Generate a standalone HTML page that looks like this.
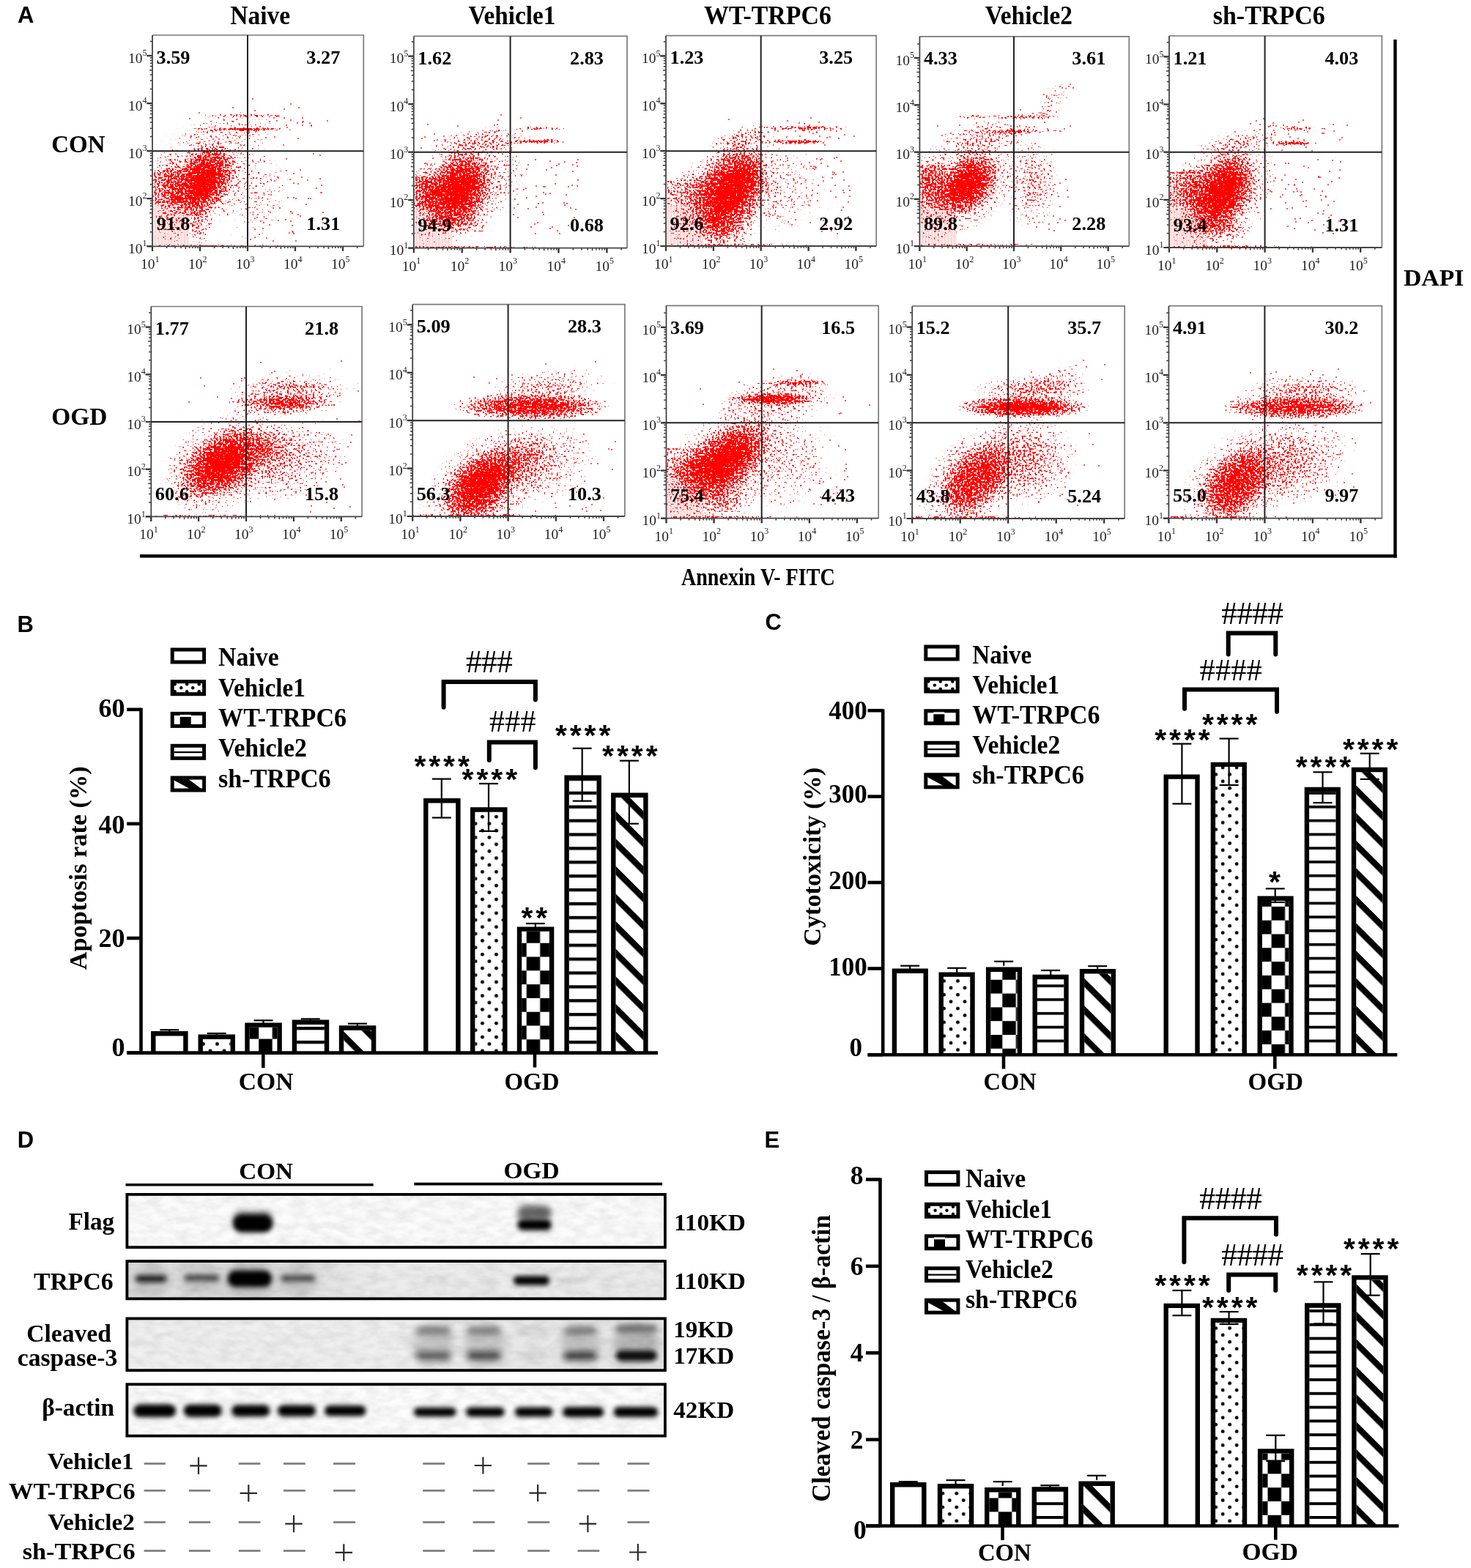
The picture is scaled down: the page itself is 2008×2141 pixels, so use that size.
<!DOCTYPE html>
<html><head><meta charset="utf-8"><title>Figure</title><style>html,body{margin:0;padding:0;background:#fff;overflow:hidden}svg{display:block}</style></head><body>
<svg width="2008" height="2141" viewBox="0 0 2008 2141">
<rect width="2008" height="2141" fill="#fff"/>
<defs>
<filter id="bl2" x="-20%" y="-60%" width="140%" height="220%"><feGaussianBlur stdDeviation="2.2"/></filter>
<filter id="bl3" x="-30%" y="-80%" width="160%" height="260%"><feGaussianBlur stdDeviation="3"/></filter>
<filter id="bl4" x="-40%" y="-80%" width="180%" height="260%"><feGaussianBlur stdDeviation="4"/></filter>
<filter id="bl6" x="-40%" y="-80%" width="180%" height="260%"><feGaussianBlur stdDeviation="6"/></filter>
<filter id="noise" x="0" y="0" width="100%" height="100%"><feTurbulence type="fractalNoise" baseFrequency="0.05 0.1" numOctaves="3" seed="7"/><feColorMatrix type="matrix" values="0 0 0 0 0  0 0 0 0 0  0 0 0 0 0  0.14 0 0 0 -0.045"/></filter>
<linearGradient id="trg" x1="0" x2="1" y1="0" y2="0"><stop offset="0" stop-color="#dcdcdc"/><stop offset="0.35" stop-color="#e0e0e0"/><stop offset="0.45" stop-color="#ececec"/><stop offset="1" stop-color="#eaeaea"/></linearGradient>
<linearGradient id="clg" x1="0" x2="1" y1="0" y2="0"><stop offset="0" stop-color="#efefef"/><stop offset="0.5" stop-color="#efefef"/><stop offset="0.6" stop-color="#e9e9e9"/><stop offset="1" stop-color="#e6e6e6"/></linearGradient>
<radialGradient id="gg"><stop offset="0" stop-color="#000"/><stop offset="0.2" stop-color="#000" stop-opacity="0.88"/><stop offset="0.4" stop-color="#000" stop-opacity="0.61"/><stop offset="0.6" stop-color="#000" stop-opacity="0.32"/><stop offset="0.8" stop-color="#000" stop-opacity="0.135"/><stop offset="1" stop-color="#000" stop-opacity="0"/></radialGradient><radialGradient id="gf"><stop offset="0" stop-color="#000"/><stop offset="0.45" stop-color="#000"/><stop offset="0.7" stop-color="#000" stop-opacity="0.6"/><stop offset="0.85" stop-color="#000" stop-opacity="0.25"/><stop offset="1" stop-color="#000" stop-opacity="0"/></radialGradient><radialGradient id="gc"><stop offset="0" stop-color="#000"/><stop offset="0.3" stop-color="#000" stop-opacity="0.95"/><stop offset="0.5" stop-color="#000" stop-opacity="0.75"/><stop offset="0.7" stop-color="#000" stop-opacity="0.45"/><stop offset="0.85" stop-color="#000" stop-opacity="0.2"/><stop offset="1" stop-color="#000" stop-opacity="0"/></radialGradient>
<pattern id="vst" patternUnits="userSpaceOnUse" width="4.4" height="10"><rect width="1.9" height="10"/><rect x="1.9" width="2.5" height="10" opacity="0.2"/></pattern>
<pattern id="pst" patternUnits="userSpaceOnUse" width="4.4" height="10"><rect width="4.4" height="10" fill="#fdeaea"/><rect width="1.6" height="10" fill="#fbd3d3"/></pattern>
<clipPath id="clip0"><rect x="208" y="48" width="288.3" height="288.3"/></clipPath>
<filter id="spk0" filterUnits="userSpaceOnUse" x="208" y="48" width="288.3" height="288.3" color-interpolation-filters="sRGB"><feTurbulence type="fractalNoise" baseFrequency="0.4" numOctaves="1" seed="11" result="n"/><feComponentTransfer in="n" result="u"><feFuncA type="table" tableValues="0 0 0.001 0.03 0.18 0.49 0.82 0.97 1 1 1"/></feComponentTransfer><feComposite in="SourceAlpha" in2="u" operator="arithmetic" k2="30" k3="-30" result="m"/><feFlood flood-color="#f00"/><feComposite in2="m" operator="in"/><feGaussianBlur stdDeviation="0.45"/></filter>
<clipPath id="clip1"><rect x="564.8" y="49.4" width="291.2" height="289.3"/></clipPath>
<filter id="spk1" filterUnits="userSpaceOnUse" x="564.8" y="49.4" width="291.2" height="289.3" color-interpolation-filters="sRGB"><feTurbulence type="fractalNoise" baseFrequency="0.4" numOctaves="1" seed="18" result="n"/><feComponentTransfer in="n" result="u"><feFuncA type="table" tableValues="0 0 0.001 0.03 0.18 0.49 0.82 0.97 1 1 1"/></feComponentTransfer><feComposite in="SourceAlpha" in2="u" operator="arithmetic" k2="30" k3="-30" result="m"/><feFlood flood-color="#f00"/><feComposite in2="m" operator="in"/><feGaussianBlur stdDeviation="0.45"/></filter>
<clipPath id="clip2"><rect x="909" y="48.7" width="287.2" height="287.3"/></clipPath>
<filter id="spk2" filterUnits="userSpaceOnUse" x="909" y="48.7" width="287.2" height="287.3" color-interpolation-filters="sRGB"><feTurbulence type="fractalNoise" baseFrequency="0.4" numOctaves="1" seed="25" result="n"/><feComponentTransfer in="n" result="u"><feFuncA type="table" tableValues="0 0 0.001 0.03 0.18 0.49 0.82 0.97 1 1 1"/></feComponentTransfer><feComposite in="SourceAlpha" in2="u" operator="arithmetic" k2="30" k3="-30" result="m"/><feFlood flood-color="#f00"/><feComposite in2="m" operator="in"/><feGaussianBlur stdDeviation="0.45"/></filter>
<clipPath id="clip3"><rect x="1255.4" y="49.8" width="285.9" height="286.4"/></clipPath>
<filter id="spk3" filterUnits="userSpaceOnUse" x="1255.4" y="49.8" width="285.9" height="286.4" color-interpolation-filters="sRGB"><feTurbulence type="fractalNoise" baseFrequency="0.4" numOctaves="1" seed="32" result="n"/><feComponentTransfer in="n" result="u"><feFuncA type="table" tableValues="0 0 0.001 0.03 0.18 0.49 0.82 0.97 1 1 1"/></feComponentTransfer><feComposite in="SourceAlpha" in2="u" operator="arithmetic" k2="30" k3="-30" result="m"/><feFlood flood-color="#f00"/><feComposite in2="m" operator="in"/><feGaussianBlur stdDeviation="0.45"/></filter>
<clipPath id="clip4"><rect x="1596" y="49" width="290.4" height="289"/></clipPath>
<filter id="spk4" filterUnits="userSpaceOnUse" x="1596" y="49" width="290.4" height="289" color-interpolation-filters="sRGB"><feTurbulence type="fractalNoise" baseFrequency="0.4" numOctaves="1" seed="39" result="n"/><feComponentTransfer in="n" result="u"><feFuncA type="table" tableValues="0 0 0.001 0.03 0.18 0.49 0.82 0.97 1 1 1"/></feComponentTransfer><feComposite in="SourceAlpha" in2="u" operator="arithmetic" k2="30" k3="-30" result="m"/><feFlood flood-color="#f00"/><feComposite in2="m" operator="in"/><feGaussianBlur stdDeviation="0.45"/></filter>
<clipPath id="clip5"><rect x="206.3" y="418.5" width="287.8" height="286.9"/></clipPath>
<filter id="spk5" filterUnits="userSpaceOnUse" x="206.3" y="418.5" width="287.8" height="286.9" color-interpolation-filters="sRGB"><feTurbulence type="fractalNoise" baseFrequency="0.4" numOctaves="1" seed="46" result="n"/><feComponentTransfer in="n" result="u"><feFuncA type="table" tableValues="0 0 0.001 0.03 0.18 0.49 0.82 0.97 1 1 1"/></feComponentTransfer><feComposite in="SourceAlpha" in2="u" operator="arithmetic" k2="30" k3="-30" result="m"/><feFlood flood-color="#f00"/><feComposite in2="m" operator="in"/><feGaussianBlur stdDeviation="0.45"/></filter>
<clipPath id="clip6"><rect x="563.2" y="415.7" width="289.7" height="289.3"/></clipPath>
<filter id="spk6" filterUnits="userSpaceOnUse" x="563.2" y="415.7" width="289.7" height="289.3" color-interpolation-filters="sRGB"><feTurbulence type="fractalNoise" baseFrequency="0.4" numOctaves="1" seed="53" result="n"/><feComponentTransfer in="n" result="u"><feFuncA type="table" tableValues="0 0 0.001 0.03 0.18 0.49 0.82 0.97 1 1 1"/></feComponentTransfer><feComposite in="SourceAlpha" in2="u" operator="arithmetic" k2="30" k3="-30" result="m"/><feFlood flood-color="#f00"/><feComposite in2="m" operator="in"/><feGaussianBlur stdDeviation="0.45"/></filter>
<clipPath id="clip7"><rect x="909.5" y="417.3" width="289.7" height="290.4"/></clipPath>
<filter id="spk7" filterUnits="userSpaceOnUse" x="909.5" y="417.3" width="289.7" height="290.4" color-interpolation-filters="sRGB"><feTurbulence type="fractalNoise" baseFrequency="0.4" numOctaves="1" seed="60" result="n"/><feComponentTransfer in="n" result="u"><feFuncA type="table" tableValues="0 0 0.001 0.03 0.18 0.49 0.82 0.97 1 1 1"/></feComponentTransfer><feComposite in="SourceAlpha" in2="u" operator="arithmetic" k2="30" k3="-30" result="m"/><feFlood flood-color="#f00"/><feComposite in2="m" operator="in"/><feGaussianBlur stdDeviation="0.45"/></filter>
<clipPath id="clip8"><rect x="1245.2" y="417.9" width="290" height="290.1"/></clipPath>
<filter id="spk8" filterUnits="userSpaceOnUse" x="1245.2" y="417.9" width="290" height="290.1" color-interpolation-filters="sRGB"><feTurbulence type="fractalNoise" baseFrequency="0.4" numOctaves="1" seed="67" result="n"/><feComponentTransfer in="n" result="u"><feFuncA type="table" tableValues="0 0 0.001 0.03 0.18 0.49 0.82 0.97 1 1 1"/></feComponentTransfer><feComposite in="SourceAlpha" in2="u" operator="arithmetic" k2="30" k3="-30" result="m"/><feFlood flood-color="#f00"/><feComposite in2="m" operator="in"/><feGaussianBlur stdDeviation="0.45"/></filter>
<clipPath id="clip9"><rect x="1595.4" y="417.7" width="291" height="290"/></clipPath>
<filter id="spk9" filterUnits="userSpaceOnUse" x="1595.4" y="417.7" width="291" height="290" color-interpolation-filters="sRGB"><feTurbulence type="fractalNoise" baseFrequency="0.4" numOctaves="1" seed="74" result="n"/><feComponentTransfer in="n" result="u"><feFuncA type="table" tableValues="0 0 0.001 0.03 0.18 0.49 0.82 0.97 1 1 1"/></feComponentTransfer><feComposite in="SourceAlpha" in2="u" operator="arithmetic" k2="30" k3="-30" result="m"/><feFlood flood-color="#f00"/><feComposite in2="m" operator="in"/><feGaussianBlur stdDeviation="0.45"/></filter>
<pattern id="p1" patternUnits="userSpaceOnUse" x="276.9" y="1437.6" width="19" height="18.8"><rect width="19" height="18.8" fill="#fff"/><circle cx="0.6" cy="6.6" r="2.45"/><circle cx="19.6" cy="6.6" r="2.45"/><circle cx="10.1" cy="16" r="2.45"/><circle cx="10.1" cy="-2.8" r="2.45"/></pattern>
<pattern id="p2" patternUnits="userSpaceOnUse" x="353.2" y="1418.6" width="37" height="37.6"><rect width="37" height="37.6" fill="#fff"/><rect x="0" y="0" width="18.5" height="18.8" fill="#000"/><rect x="18.5" y="18.8" width="18.5" height="18.8" fill="#000"/></pattern>
<pattern id="p3" patternUnits="userSpaceOnUse" x="405.1" y="1420.9" width="20" height="18.9"><rect width="20" height="18.9" fill="#fff"/><rect x="0" y="0" width="20" height="4.3" fill="#000"/></pattern>
<pattern id="p4" patternUnits="userSpaceOnUse" x="0" y="0" width="40" height="26.6" patternTransform="translate(469.2 1446) rotate(45)"><rect width="40" height="26.6" fill="#fff"/><rect x="0" y="0" width="40" height="8.4" fill="#000"/></pattern>
<pattern id="p5" patternUnits="userSpaceOnUse" x="648.4" y="1437.6" width="19" height="18.8"><rect width="19" height="18.8" fill="#fff"/><circle cx="0.6" cy="6.6" r="2.45"/><circle cx="19.6" cy="6.6" r="2.45"/><circle cx="10.1" cy="16" r="2.45"/><circle cx="10.1" cy="-2.8" r="2.45"/></pattern>
<pattern id="p6" patternUnits="userSpaceOnUse" x="718.7" y="1419.3" width="37" height="37.6"><rect width="37" height="37.6" fill="#fff"/><rect x="0" y="0" width="18.5" height="18.8" fill="#000"/><rect x="18.5" y="18.8" width="18.5" height="18.8" fill="#000"/></pattern>
<pattern id="p7" patternUnits="userSpaceOnUse" x="776.8" y="1420.9" width="20" height="18.9"><rect width="20" height="18.9" fill="#fff"/><rect x="0" y="0" width="20" height="4.3" fill="#000"/></pattern>
<pattern id="p8" patternUnits="userSpaceOnUse" x="0" y="0" width="40" height="26.6" patternTransform="translate(840.5 1446) rotate(45)"><rect width="40" height="26.6" fill="#fff"/><rect x="0" y="0" width="40" height="8.4" fill="#000"/></pattern>
<pattern id="p9" patternUnits="userSpaceOnUse" x="1287.9" y="1440.2" width="19" height="18.8"><rect width="19" height="18.8" fill="#fff"/><circle cx="0.6" cy="12" r="2.45"/><circle cx="19.6" cy="12" r="2.45"/><circle cx="10.1" cy="21.4" r="2.45"/><circle cx="10.1" cy="2.6" r="2.45"/></pattern>
<pattern id="p10" patternUnits="userSpaceOnUse" x="1368.3" y="1431.8" width="37" height="37.6"><rect width="37" height="37.6" fill="#fff"/><rect x="0" y="0" width="18.5" height="18.8" fill="#000"/><rect x="18.5" y="18.8" width="18.5" height="18.8" fill="#000"/></pattern>
<pattern id="p11" patternUnits="userSpaceOnUse" x="1415.9" y="1419.5" width="20" height="18.8"><rect width="20" height="18.8" fill="#fff"/><rect x="0" y="0" width="20" height="3.7" fill="#000"/></pattern>
<pattern id="p12" patternUnits="userSpaceOnUse" x="0" y="0" width="40" height="26.6" patternTransform="translate(1480.2 1448.6) rotate(45)"><rect width="40" height="26.6" fill="#fff"/><rect x="0" y="0" width="40" height="8.4" fill="#000"/></pattern>
<pattern id="p13" patternUnits="userSpaceOnUse" x="1659.1" y="1440.2" width="19" height="18.8"><rect width="19" height="18.8" fill="#fff"/><circle cx="0.6" cy="12" r="2.45"/><circle cx="19.6" cy="12" r="2.45"/><circle cx="10.1" cy="21.4" r="2.45"/><circle cx="10.1" cy="2.6" r="2.45"/></pattern>
<pattern id="p14" patternUnits="userSpaceOnUse" x="1735.6" y="1425.9" width="37" height="37.6"><rect width="37" height="37.6" fill="#fff"/><rect x="0" y="0" width="18.5" height="18.8" fill="#000"/><rect x="18.5" y="18.8" width="18.5" height="18.8" fill="#000"/></pattern>
<pattern id="p15" patternUnits="userSpaceOnUse" x="1787.1" y="1419.5" width="20" height="18.8"><rect width="20" height="18.8" fill="#fff"/><rect x="0" y="0" width="20" height="3.7" fill="#000"/></pattern>
<pattern id="p16" patternUnits="userSpaceOnUse" x="0" y="0" width="40" height="26.6" patternTransform="translate(1851.2 1448.6) rotate(45)"><rect width="40" height="26.6" fill="#fff"/><rect x="0" y="0" width="40" height="8.4" fill="#000"/></pattern>
<pattern id="p17" patternUnits="userSpaceOnUse" x="1286.2" y="2083.5" width="19" height="18.8"><rect width="19" height="18.8" fill="#fff"/><circle cx="0.6" cy="12" r="2.45"/><circle cx="19.6" cy="12" r="2.45"/><circle cx="10.1" cy="21.4" r="2.45"/><circle cx="10.1" cy="2.6" r="2.45"/></pattern>
<pattern id="p18" patternUnits="userSpaceOnUse" x="1362.8" y="2064.3" width="37" height="37.6"><rect width="37" height="37.6" fill="#fff"/><rect x="0" y="0" width="18.5" height="18.8" fill="#000"/><rect x="18.5" y="18.8" width="18.5" height="18.8" fill="#000"/></pattern>
<pattern id="p19" patternUnits="userSpaceOnUse" x="1415" y="2070" width="20" height="18.8"><rect width="20" height="18.8" fill="#fff"/><rect x="0" y="0" width="20" height="3.9" fill="#000"/></pattern>
<pattern id="p20" patternUnits="userSpaceOnUse" x="0" y="0" width="40" height="26.6" patternTransform="translate(1478.8 2091.9) rotate(45)"><rect width="40" height="26.6" fill="#fff"/><rect x="0" y="0" width="40" height="8.4" fill="#000"/></pattern>
<pattern id="p21" patternUnits="userSpaceOnUse" x="1659.1" y="2083.5" width="19" height="18.8"><rect width="19" height="18.8" fill="#fff"/><circle cx="0.6" cy="12" r="2.45"/><circle cx="19.6" cy="12" r="2.45"/><circle cx="10.1" cy="21.4" r="2.45"/><circle cx="10.1" cy="2.6" r="2.45"/></pattern>
<pattern id="p22" patternUnits="userSpaceOnUse" x="1730.5" y="2068.8" width="37" height="37.6"><rect width="37" height="37.6" fill="#fff"/><rect x="0" y="0" width="18.5" height="18.8" fill="#000"/><rect x="18.5" y="18.8" width="18.5" height="18.8" fill="#000"/></pattern>
<pattern id="p23" patternUnits="userSpaceOnUse" x="1787.4" y="2070" width="20" height="18.8"><rect width="20" height="18.8" fill="#fff"/><rect x="0" y="0" width="20" height="3.9" fill="#000"/></pattern>
<pattern id="p24" patternUnits="userSpaceOnUse" x="0" y="0" width="40" height="26.6" patternTransform="translate(1851.6 2091.9) rotate(45)"><rect width="40" height="26.6" fill="#fff"/><rect x="0" y="0" width="40" height="8.4" fill="#000"/></pattern>
</defs>
<g clip-path="url(#clip0)">
<rect x="209" y="278" width="49" height="57" fill="url(#pst)"/>
<g filter="url(#spk0)"><ellipse cx="277" cy="246" rx="60" ry="40" fill="url(#gc)" transform="rotate(-55 277 246)"/><ellipse cx="278" cy="252" rx="85" ry="60" fill="url(#gg)" opacity="0.35" transform="rotate(-50 278 252)"/><ellipse cx="234" cy="252" rx="30" ry="55" fill="url(#gg)" opacity="0.50"/><ellipse cx="270" cy="300" rx="17.5" ry="45" fill="url(#gg)" opacity="0.35" transform="rotate(-5 270 300)"/><ellipse cx="233" cy="306" rx="30" ry="50" fill="url(#gg)" opacity="0.15"/><ellipse cx="333" cy="176.5" rx="80" ry="3" fill="url(#gg)" opacity="0.80"/><ellipse cx="335" cy="176.5" rx="35" ry="3" fill="url(#gg)" opacity="0.50"/><ellipse cx="342" cy="158" rx="70" ry="2.8" fill="url(#gg)" opacity="0.55"/><ellipse cx="300" cy="185" rx="100" ry="40" fill="url(#gg)" opacity="0.12" transform="rotate(-10 300 185)"/><ellipse cx="350" cy="260" rx="62.5" ry="87.5" fill="url(#gg)" opacity="0.10"/><ellipse cx="272" cy="335.5" rx="150" ry="2" fill="url(#gg)" opacity="0.60"/><rect x="209" y="232" width="41" height="47" fill="url(#vst)" opacity="0.55"/></g>
<path d="M344 135h2m50 7h2m-81 5h2m88 0h2m-22 2h2m-42 2h2m-78 3h2m104 5h2m-6 2h2m12 0h2m23 0h2m-156 1h2m45 2h2m89 0h2m-21 1h2m67 0h2m-81 1h2m44 0h2m-3 1h2m-9 1h2m15 0h2m-98 2h2m62 1h2m20 0h2m10 0h2m-133 1h2m129 0h2m-72 1h2m35 1h2m-35 1h2m-35 1h2m22 3h2m-74 1h2m60 0h2m7 0h2m-12 2h2m-22 3h2m7 1h2m-59 1h2m22 0h2m78 0h2m-50 1h2m34 0h2m42 1h2m-118 1h2m6 0h2m-28 4h2m22 2h2m-38 2h2m124 0h2m-114 1h2m19 1h2m47 3h2m-26 1h2m-9 1h2m-58 3h2m-1 1h2m68 1h2m97 0h2m7 2h2m-196 2h2m146 3h2m-48 2h2m63 13h2m-21 1h2m8 4h2m-24 5h2m31 0h2m-34 1h2m55 1h2m-43 1h2m22 1h2m-47 1h2m24 3h2m4 1h2m30 2h2m-92 1h2m81 3h2m4 6h2m-1 0h2m-71 3h2m21 4h2m6 0h2m1 1h2m15 0h2m1 0h2m-8 8h2m-47 5h2m7 0h2m13 5h2m-30 1h2m70 0h2m-44 1h2m-49 2h2m53 0h2m1 2h2m-61 2h2m74 1h2m-39 2h2m32 0h2m-46 1h2m-26 1h2m39 0h2m-39 2h2m79 0h2m-75 3h2m29 1h2m-42 4h2m-13 1h2m49 3h2m-1 1h2m-7 1h2m4 1h2m-49 1h2m-8 4h2m14 1h2m-24 2h2m29 2h2m29 0h2" stroke="#f22" stroke-width="1.7"/>
</g>
<path d="M208 48H496.3V336.3" fill="none" stroke="#7a7a7a" stroke-width="1.7"/>
<path d="M200.5 336.3h7.5M204.8 316.7h3.2M204.8 305.3h3.2M204.8 297.1h3.2M204 290.8h4M204.8 285.7h3.2M204.8 281.3h3.2M204.8 277.6h3.2M204.8 274.2h3.2M200.5 271.2h7.5M204.8 251.7h3.2M204.8 240.2h3.2M204.8 232.1h3.2M204 225.8h4M204.8 220.6h3.2M204.8 216.3h3.2M204.8 212.5h3.2M204.8 209.2h3.2M200.5 206.2h7.5M204.8 186.6h3.2M204.8 175.2h3.2M204.8 167h3.2M204 160.7h4M204.8 155.6h3.2M204.8 151.2h3.2M204.8 147.5h3.2M204.8 144.1h3.2M200.5 141.1h7.5M204.8 121.6h3.2M204.8 110.1h3.2M204.8 102h3.2M204 95.7h4M204.8 90.5h3.2M204.8 86.2h3.2M204.8 82.4h3.2M204.8 79.1h3.2M200.5 76.1h7.5M204.8 56.5h3.2M208 336.3v6.5M227.6 336.3v2.8M239 336.3v2.8M247.1 336.3v2.8M253.4 336.3v3.6M258.6 336.3v2.8M262.9 336.3v2.8M266.7 336.3v2.8M270 336.3v2.8M273 336.3v6.5M292.6 336.3v2.8M304 336.3v2.8M312.1 336.3v2.8M318.4 336.3v3.6M323.6 336.3v2.8M327.9 336.3v2.8M331.7 336.3v2.8M335 336.3v2.8M338 336.3v6.5M357.6 336.3v2.8M369 336.3v2.8M377.1 336.3v2.8M383.4 336.3v3.6M388.6 336.3v2.8M392.9 336.3v2.8M396.7 336.3v2.8M400 336.3v2.8M403 336.3v6.5M422.6 336.3v2.8M434 336.3v2.8M442.1 336.3v2.8M448.4 336.3v3.6M453.6 336.3v2.8M457.9 336.3v2.8M461.7 336.3v2.8M465 336.3v2.8M468 336.3v6.5M487.6 336.3v2.8" stroke="#3a3a3a" stroke-width="1.5"/>
<path d="M200.5 336.3h7.5M208 336.3v6.5M200.5 271.2h7.5M273 336.3v6.5M200.5 206.2h7.5M338 336.3v6.5M200.5 141.1h7.5M403 336.3v6.5M200.5 76.1h7.5M468 336.3v6.5" stroke="#333" stroke-width="2.2"/>
<path d="M208 48V336.3H496.3" fill="none" stroke="#444" stroke-width="1.8"/>
<text x="192" y="367.3" font-family="'Liberation Serif','Times New Roman',serif" font-size="19.5" fill="#222">10<tspan font-size="12" dy="-9.5">1</tspan></text>
<text x="175" y="345.9" font-family="'Liberation Serif','Times New Roman',serif" font-size="19.5" fill="#222">10<tspan font-size="12" dy="-9.5">1</tspan></text>
<text x="257" y="367.3" font-family="'Liberation Serif','Times New Roman',serif" font-size="19.5" fill="#222">10<tspan font-size="12" dy="-9.5">2</tspan></text>
<text x="175" y="280.9" font-family="'Liberation Serif','Times New Roman',serif" font-size="19.5" fill="#222">10<tspan font-size="12" dy="-9.5">2</tspan></text>
<text x="322" y="367.3" font-family="'Liberation Serif','Times New Roman',serif" font-size="19.5" fill="#222">10<tspan font-size="12" dy="-9.5">3</tspan></text>
<text x="175" y="215.8" font-family="'Liberation Serif','Times New Roman',serif" font-size="19.5" fill="#222">10<tspan font-size="12" dy="-9.5">3</tspan></text>
<text x="387" y="367.3" font-family="'Liberation Serif','Times New Roman',serif" font-size="19.5" fill="#222">10<tspan font-size="12" dy="-9.5">4</tspan></text>
<text x="175" y="150.7" font-family="'Liberation Serif','Times New Roman',serif" font-size="19.5" fill="#222">10<tspan font-size="12" dy="-9.5">4</tspan></text>
<text x="452" y="367.3" font-family="'Liberation Serif','Times New Roman',serif" font-size="19.5" fill="#222">10<tspan font-size="12" dy="-9.5">5</tspan></text>
<text x="175" y="85.7" font-family="'Liberation Serif','Times New Roman',serif" font-size="19.5" fill="#222">10<tspan font-size="12" dy="-9.5">5</tspan></text>
<path d="M338 48L338 336.3" stroke="#222" stroke-width="2"/>
<path d="M208 206.2L496.3 206.2" stroke="#222" stroke-width="2"/>
<text x="213.5" y="86.5" font-family="'Liberation Serif','Times New Roman',serif" font-size="26" font-weight="bold" textLength="46" lengthAdjust="spacingAndGlyphs">3.59</text>
<text x="464.3" y="86.5" font-family="'Liberation Serif','Times New Roman',serif" font-size="26" font-weight="bold" text-anchor="end" textLength="46" lengthAdjust="spacingAndGlyphs">3.27</text>
<text x="213.5" y="314" font-family="'Liberation Serif','Times New Roman',serif" font-size="26" font-weight="bold" textLength="46" lengthAdjust="spacingAndGlyphs">91.8</text>
<text x="464.3" y="314" font-family="'Liberation Serif','Times New Roman',serif" font-size="26" font-weight="bold" text-anchor="end" textLength="46" lengthAdjust="spacingAndGlyphs">1.31</text>
<g clip-path="url(#clip1)">
<rect x="566" y="284" width="51" height="53" fill="url(#pst)"/>
<g filter="url(#spk1)"><ellipse cx="625" cy="260" rx="62.5" ry="45" fill="url(#gc)" transform="rotate(-62 625 260)"/><ellipse cx="638" cy="256" rx="100" ry="70" fill="url(#gg)" opacity="0.35" transform="rotate(-45 638 256)"/><ellipse cx="585" cy="262" rx="30" ry="45" fill="url(#gg)" opacity="0.50"/><ellipse cx="620" cy="300" rx="22.5" ry="50" fill="url(#gg)" opacity="0.45" transform="rotate(-85 620 300)"/><ellipse cx="585" cy="305" rx="30" ry="40" fill="url(#gg)" opacity="0.15"/><ellipse cx="728" cy="193" rx="50" ry="3.8" fill="url(#gg)" opacity="0.80"/><ellipse cx="745" cy="193" rx="22.5" ry="3.8" fill="url(#gg)" opacity="0.60"/><ellipse cx="738" cy="175.5" rx="40" ry="3.2" fill="url(#gg)" opacity="0.50"/><ellipse cx="655" cy="194" rx="87.5" ry="22.5" fill="url(#gg)" opacity="0.22" transform="rotate(-8 655 194)"/><ellipse cx="630" cy="337.5" rx="150" ry="2" fill="url(#gg)" opacity="0.60"/><rect x="567" y="241" width="36" height="43" fill="url(#vst)" opacity="0.75"/></g>
<path d="M683 157h2m25 4h2m-33 3h2m-98 6h2m93 0h2m-6 1h2m-52 1h2m51 7h2m33 0h2m-122 4h2m44 0h2m-18 2h2m-19 1h2m-28 1h2m72 0h2m6 0h2m-88 2h2m97 1h2m-80 1h2m8 0h2m-16 1h2m40 3h2m24 0h2m-36 2h2m30 0h2m-65 2h2m-23 3h2m29 1h2m76 0h2m-12 1h2m-56 1h2m2 3h2m-9 1h2m-16 2h2m9 1h2m0 1h2m-27 3h2m22 0h2m114 2h2m56 0h2m-40 2h2m18 1h2m14 1h2m-26 2h2m-144 1h2m98 0h2m59 0h2m-24 1h2m26 1h2m-37 2h2m-36 2h2m25 1h2m34 2h2m-25 5h2m-49 1h2m75 6h2m-33 5h2m21 2h2m-51 1h2m54 0h2m-48 1h2m0 0h2m30 0h2m-60 2h2m-14 1h2m7 1h2m-16 2h2m39 2h2m7 1h2m-8 1h2m26 1h2m-43 2h2m-15 2h2m-18 2h2m36 5h2m27 0h2m-37 1h2m37 0h2m-69 1h2m62 1h2m-41 3h2m-32 1h2m75 0h2m-60 1h2m63 1h2m-47 4h2m-42 3h2m39 0h2m-37 4h2m75 0h2m-52 7h2m-6 2h2m44 2h2m-53 2h2m27 0h2m-5 2h2m8 3h2m-32 4h2m31 0h2" stroke="#f22" stroke-width="1.7"/>
</g>
<path d="M564.8 49.4H856V338.7" fill="none" stroke="#7a7a7a" stroke-width="1.7"/>
<path d="M557.3 338.7h7.5M561.6 319h3.2M561.6 307.4h3.2M561.6 299.3h3.2M560.8 292.9h4M561.6 287.7h3.2M561.6 283.3h3.2M561.6 279.5h3.2M561.6 276.2h3.2M557.3 273.2h7.5M561.6 253.5h3.2M561.6 241.9h3.2M561.6 233.8h3.2M560.8 227.4h4M561.6 222.2h3.2M561.6 217.8h3.2M561.6 214h3.2M561.6 210.7h3.2M557.3 207.7h7.5M561.6 188h3.2M561.6 176.4h3.2M561.6 168.3h3.2M560.8 161.9h4M561.6 156.7h3.2M561.6 152.3h3.2M561.6 148.5h3.2M561.6 145.2h3.2M557.3 142.2h7.5M561.6 122.5h3.2M561.6 110.9h3.2M561.6 102.8h3.2M560.8 96.4h4M561.6 91.2h3.2M561.6 86.8h3.2M561.6 83h3.2M561.6 79.7h3.2M557.3 76.7h7.5M561.6 57h3.2M564.8 338.7v6.5M584.6 338.7v2.8M596.2 338.7v2.8M604.5 338.7v2.8M610.9 338.7v3.6M616.1 338.7v2.8M620.5 338.7v2.8M624.3 338.7v2.8M627.7 338.7v2.8M630.7 338.7v6.5M650.5 338.7v2.8M662.1 338.7v2.8M670.4 338.7v2.8M676.8 338.7v3.6M682 338.7v2.8M686.4 338.7v2.8M690.2 338.7v2.8M693.6 338.7v2.8M696.6 338.7v6.5M716.4 338.7v2.8M728 338.7v2.8M736.3 338.7v2.8M742.7 338.7v3.6M747.9 338.7v2.8M752.3 338.7v2.8M756.1 338.7v2.8M759.5 338.7v2.8M762.5 338.7v6.5M782.3 338.7v2.8M793.9 338.7v2.8M802.2 338.7v2.8M808.6 338.7v3.6M813.8 338.7v2.8M818.2 338.7v2.8M822 338.7v2.8M825.4 338.7v2.8M828.4 338.7v6.5M848.2 338.7v2.8" stroke="#3a3a3a" stroke-width="1.5"/>
<path d="M557.3 338.7h7.5M564.8 338.7v6.5M557.3 273.2h7.5M630.7 338.7v6.5M557.3 207.7h7.5M696.6 338.7v6.5M557.3 142.2h7.5M762.5 338.7v6.5M557.3 76.7h7.5M828.4 338.7v6.5" stroke="#333" stroke-width="2.2"/>
<path d="M564.8 49.4V338.7H856" fill="none" stroke="#444" stroke-width="1.8"/>
<text x="548.8" y="369.7" font-family="'Liberation Serif','Times New Roman',serif" font-size="19.5" fill="#222">10<tspan font-size="12" dy="-9.5">1</tspan></text>
<text x="531.8" y="348.3" font-family="'Liberation Serif','Times New Roman',serif" font-size="19.5" fill="#222">10<tspan font-size="12" dy="-9.5">1</tspan></text>
<text x="614.7" y="369.7" font-family="'Liberation Serif','Times New Roman',serif" font-size="19.5" fill="#222">10<tspan font-size="12" dy="-9.5">2</tspan></text>
<text x="531.8" y="282.8" font-family="'Liberation Serif','Times New Roman',serif" font-size="19.5" fill="#222">10<tspan font-size="12" dy="-9.5">2</tspan></text>
<text x="680.6" y="369.7" font-family="'Liberation Serif','Times New Roman',serif" font-size="19.5" fill="#222">10<tspan font-size="12" dy="-9.5">3</tspan></text>
<text x="531.8" y="217.3" font-family="'Liberation Serif','Times New Roman',serif" font-size="19.5" fill="#222">10<tspan font-size="12" dy="-9.5">3</tspan></text>
<text x="746.5" y="369.7" font-family="'Liberation Serif','Times New Roman',serif" font-size="19.5" fill="#222">10<tspan font-size="12" dy="-9.5">4</tspan></text>
<text x="531.8" y="151.8" font-family="'Liberation Serif','Times New Roman',serif" font-size="19.5" fill="#222">10<tspan font-size="12" dy="-9.5">4</tspan></text>
<text x="812.4" y="369.7" font-family="'Liberation Serif','Times New Roman',serif" font-size="19.5" fill="#222">10<tspan font-size="12" dy="-9.5">5</tspan></text>
<text x="531.8" y="86.3" font-family="'Liberation Serif','Times New Roman',serif" font-size="19.5" fill="#222">10<tspan font-size="12" dy="-9.5">5</tspan></text>
<path d="M696.6 49.4L696.6 338.7" stroke="#222" stroke-width="2"/>
<path d="M564.8 207.7L856 207.7" stroke="#222" stroke-width="2"/>
<text x="570.3" y="87.9" font-family="'Liberation Serif','Times New Roman',serif" font-size="26" font-weight="bold" textLength="46" lengthAdjust="spacingAndGlyphs">1.62</text>
<text x="824" y="87.9" font-family="'Liberation Serif','Times New Roman',serif" font-size="26" font-weight="bold" text-anchor="end" textLength="46" lengthAdjust="spacingAndGlyphs">2.83</text>
<text x="570.3" y="316.4" font-family="'Liberation Serif','Times New Roman',serif" font-size="26" font-weight="bold" textLength="46" lengthAdjust="spacingAndGlyphs">94.9</text>
<text x="824" y="316.4" font-family="'Liberation Serif','Times New Roman',serif" font-size="26" font-weight="bold" text-anchor="end" textLength="46" lengthAdjust="spacingAndGlyphs">0.68</text>
<g clip-path="url(#clip2)">
<rect x="910" y="280" width="50" height="55" fill="url(#pst)"/>
<g filter="url(#spk2)"><ellipse cx="995" cy="263" rx="75" ry="50" fill="url(#gc)" transform="rotate(-58 995 263)"/><ellipse cx="990" cy="266" rx="105" ry="70" fill="url(#gg)" opacity="0.30" transform="rotate(-45 990 266)"/><ellipse cx="945" cy="262" rx="35" ry="35" fill="url(#gg)" opacity="0.28"/><ellipse cx="1020" cy="235" rx="35" ry="30" fill="url(#gg)" opacity="0.50"/><ellipse cx="985" cy="310" rx="30" ry="50" fill="url(#gg)" opacity="0.50" transform="rotate(-80 985 310)"/><ellipse cx="935" cy="307" rx="30" ry="40" fill="url(#gg)" opacity="0.15"/><ellipse cx="1085" cy="193.5" rx="50" ry="4" fill="url(#gg)" opacity="0.80"/><ellipse cx="1105" cy="193.5" rx="22.5" ry="4" fill="url(#gg)" opacity="0.50"/><ellipse cx="1100" cy="175" rx="65" ry="4" fill="url(#gg)" opacity="0.70"/><ellipse cx="1012" cy="192" rx="55" ry="22.5" fill="url(#gg)" opacity="0.30" transform="rotate(-20 1012 192)"/><ellipse cx="1070" cy="260" rx="75" ry="87.5" fill="url(#gg)" opacity="0.08"/><ellipse cx="975" cy="334.5" rx="150" ry="2" fill="url(#gg)" opacity="0.50"/><rect x="910" y="245" width="48" height="35" fill="url(#vst)" opacity="0.35"/></g>
<path d="M1106 161h2m-114 2h2m78 2h2m41 2h2m-29 1h2m5 1h2m5 2h2m-2 1h2m-51 1h2m57 0h2m25 0h2m-97 1h2m93 0h2m-10 2h2m1 0h2m-112 2h2m29 0h2m74 0h2m-74 1h2m22 0h2m54 0h2m-39 1h2m8 0h2m-77 1h2m73 0h2m-7 1h2m41 2h2m-118 2h2m53 0h2m25 0h2m45 0h2m-134 1h2m38 0h2m57 0h2m-6 1h2m14 1h2m-108 4h2m56 0h2m25 2h2m0 3h2m-74 13h2m17 2h2m67 2h2m-69 1h2m62 0h2m-26 1h2m5 0h2m-4 1h2m-47 1h2m-22 1h2m91 0h2m-45 2h2m14 1h2m-29 1h2m-27 1h2m6 1h2m28 1h2m2 0h2m17 0h2m-35 1h2m14 0h2m-1 1h2m-6 1h2m0 1h2m23 4h2m12 0h2m-14 1h2m-4 2h2m2 0h2m-67 1h2m45 3h2m-33 1h2m42 0h2m-68 1h2m11 0h2m15 2h2m50 0h2m-30 1h2m-79 3h2m37 0h2m-12 1h2m-29 2h2m66 0h2m21 0h2m17 1h2m-101 5h2m47 1h2m40 0h2m7 0h2m-28 1h2m-88 1h2m32 0h2m-22 1h2m88 0h2m-38 1h2m-69 1h2m-1 2h2m56 0h2m-31 1h2m20 0h2m57 0h2m-21 1h2m-66 1h2m2 2h2m23 2h2m8 0h2m-58 1h2m96 1h2m-98 2h2m20 1h2m-30 1h2m9 0h2m35 0h2m-51 2h2m2 1h2m21 0h2m67 0h2m-4 4h2m-66 3h2m-37 1h2m6 1h2m-9 1h2m-7 1h2m7 0h2m5 1h2m1 1h2m91 0h2m-99 2h2m23 2h2m52 0h2m-18 1h2m-50 2h2m28 1h2m53 0h2m-15 2h2m-69 1h2m45 1h2m5 7h2m-15 1h2m19 3h2" stroke="#f22" stroke-width="1.7"/>
</g>
<path d="M909 48.7H1196.2V336" fill="none" stroke="#7a7a7a" stroke-width="1.7"/>
<path d="M901.5 336h7.5M905.8 316.5h3.2M905.8 305h3.2M905.8 296.9h3.2M905 290.6h4M905.8 285.5h3.2M905.8 281.2h3.2M905.8 277.4h3.2M905.8 274.1h3.2M901.5 271.1h7.5M905.8 251.6h3.2M905.8 240.1h3.2M905.8 232h3.2M905 225.7h4M905.8 220.6h3.2M905.8 216.3h3.2M905.8 212.5h3.2M905.8 209.2h3.2M901.5 206.2h7.5M905.8 186.7h3.2M905.8 175.2h3.2M905.8 167.1h3.2M905 160.8h4M905.8 155.7h3.2M905.8 151.4h3.2M905.8 147.6h3.2M905.8 144.3h3.2M901.5 141.3h7.5M905.8 121.8h3.2M905.8 110.3h3.2M905.8 102.2h3.2M905 95.9h4M905.8 90.8h3.2M905.8 86.5h3.2M905.8 82.7h3.2M905.8 79.4h3.2M901.5 76.4h7.5M905.8 56.9h3.2M909 336v6.5M928.5 336v2.8M939.9 336v2.8M948 336v2.8M954.3 336v3.6M959.5 336v2.8M963.8 336v2.8M967.6 336v2.8M970.9 336v2.8M973.9 336v6.5M993.4 336v2.8M1004.8 336v2.8M1012.9 336v2.8M1019.2 336v3.6M1024.3 336v2.8M1028.7 336v2.8M1032.4 336v2.8M1035.7 336v2.8M1038.7 336v6.5M1058.2 336v2.8M1069.6 336v2.8M1077.7 336v2.8M1084 336v3.6M1089.2 336v2.8M1093.5 336v2.8M1097.3 336v2.8M1100.6 336v2.8M1103.6 336v6.5M1123.1 336v2.8M1134.5 336v2.8M1142.6 336v2.8M1148.9 336v3.6M1154 336v2.8M1158.4 336v2.8M1162.1 336v2.8M1165.4 336v2.8M1168.4 336v6.5M1187.9 336v2.8" stroke="#3a3a3a" stroke-width="1.5"/>
<path d="M901.5 336h7.5M909 336v6.5M901.5 271.1h7.5M973.9 336v6.5M901.5 206.2h7.5M1038.7 336v6.5M901.5 141.3h7.5M1103.6 336v6.5M901.5 76.4h7.5M1168.4 336v6.5" stroke="#333" stroke-width="2.2"/>
<path d="M909 48.7V336H1196.2" fill="none" stroke="#444" stroke-width="1.8"/>
<text x="893" y="367" font-family="'Liberation Serif','Times New Roman',serif" font-size="19.5" fill="#222">10<tspan font-size="12" dy="-9.5">1</tspan></text>
<text x="876" y="345.6" font-family="'Liberation Serif','Times New Roman',serif" font-size="19.5" fill="#222">10<tspan font-size="12" dy="-9.5">1</tspan></text>
<text x="957.9" y="367" font-family="'Liberation Serif','Times New Roman',serif" font-size="19.5" fill="#222">10<tspan font-size="12" dy="-9.5">2</tspan></text>
<text x="876" y="280.7" font-family="'Liberation Serif','Times New Roman',serif" font-size="19.5" fill="#222">10<tspan font-size="12" dy="-9.5">2</tspan></text>
<text x="1022.7" y="367" font-family="'Liberation Serif','Times New Roman',serif" font-size="19.5" fill="#222">10<tspan font-size="12" dy="-9.5">3</tspan></text>
<text x="876" y="215.8" font-family="'Liberation Serif','Times New Roman',serif" font-size="19.5" fill="#222">10<tspan font-size="12" dy="-9.5">3</tspan></text>
<text x="1087.6" y="367" font-family="'Liberation Serif','Times New Roman',serif" font-size="19.5" fill="#222">10<tspan font-size="12" dy="-9.5">4</tspan></text>
<text x="876" y="150.9" font-family="'Liberation Serif','Times New Roman',serif" font-size="19.5" fill="#222">10<tspan font-size="12" dy="-9.5">4</tspan></text>
<text x="1152.4" y="367" font-family="'Liberation Serif','Times New Roman',serif" font-size="19.5" fill="#222">10<tspan font-size="12" dy="-9.5">5</tspan></text>
<text x="876" y="86" font-family="'Liberation Serif','Times New Roman',serif" font-size="19.5" fill="#222">10<tspan font-size="12" dy="-9.5">5</tspan></text>
<path d="M1038.7 48.7L1038.7 336" stroke="#222" stroke-width="2"/>
<path d="M909 206.2L1196.2 206.2" stroke="#222" stroke-width="2"/>
<text x="914.5" y="87.2" font-family="'Liberation Serif','Times New Roman',serif" font-size="26" font-weight="bold" textLength="46" lengthAdjust="spacingAndGlyphs">1.23</text>
<text x="1164.2" y="87.2" font-family="'Liberation Serif','Times New Roman',serif" font-size="26" font-weight="bold" text-anchor="end" textLength="46" lengthAdjust="spacingAndGlyphs">3.25</text>
<text x="914.5" y="313.7" font-family="'Liberation Serif','Times New Roman',serif" font-size="26" font-weight="bold" textLength="46" lengthAdjust="spacingAndGlyphs">92.6</text>
<text x="1164.2" y="313.7" font-family="'Liberation Serif','Times New Roman',serif" font-size="26" font-weight="bold" text-anchor="end" textLength="46" lengthAdjust="spacingAndGlyphs">2.92</text>
<g clip-path="url(#clip3)">
<rect x="1257" y="282" width="49" height="53" fill="url(#pst)"/>
<g filter="url(#spk3)"><ellipse cx="1319" cy="252" rx="55" ry="37.5" fill="url(#gc)" transform="rotate(-45 1319 252)"/><ellipse cx="1318" cy="256" rx="90" ry="60" fill="url(#gg)" opacity="0.35" transform="rotate(-40 1318 256)"/><ellipse cx="1271" cy="250" rx="27.5" ry="45" fill="url(#gg)" opacity="0.50"/><ellipse cx="1272" cy="305" rx="30" ry="40" fill="url(#gg)" opacity="0.12"/><ellipse cx="1383" cy="179.5" rx="75" ry="4" fill="url(#gg)" opacity="0.65"/><ellipse cx="1396" cy="159.4" rx="55" ry="3.8" fill="url(#gg)" opacity="0.55"/><ellipse cx="1330" cy="159.4" rx="30" ry="3.8" fill="url(#gg)" opacity="0.35"/><ellipse cx="1335" cy="192" rx="87.5" ry="30" fill="url(#gg)" opacity="0.20" transform="rotate(-15 1335 192)"/><ellipse cx="1436" cy="138" rx="50" ry="20" fill="url(#gg)" opacity="0.10" transform="rotate(-50 1436 138)"/><ellipse cx="1408" cy="252" rx="45" ry="75" fill="url(#gg)" opacity="0.22"/><ellipse cx="1320" cy="334.5" rx="150" ry="2" fill="url(#gg)" opacity="0.50"/><rect x="1257" y="225" width="33" height="57" fill="url(#vst)" opacity="0.6"/></g>
<path d="M1460 115h2m-16 3h2m10 0h2m-11 2h2m13 0h2m-42 9h2m12 1h2m-12 1h2m0 3h2m-2 6h2m2 4h2m-44 6h2m35 1h2m1 1h2m7 1h2m-23 1h2m-13 1h2m12 0h2m3 1h2m-9 1h2m-29 1h2m-86 1h2m118 1h2m-23 1h2m19 0h2m-10 1h2m1 5h2m-95 1h2m14 0h2m21 2h2m-64 1h2m-32 1h2m98 0h2m10 0h2m67 0h2m-102 1h2m38 0h2m9 0h2m-9 1h2m-59 1h2m80 1h2m21 0h2m-73 1h2m-20 2h2m81 0h2m-56 2h2m-97 1h2m79 0h2m-25 2h2m36 0h2m-110 1h2m76 2h2m23 7h2m-11 2h2m31 0h2m-71 3h2m18 1h2m-25 5h2m66 11h2m23 11h2m-27 3h2m-9 5h2m3 4h2m8 3h2m36 3h2m-37 3h2m-27 2h2m50 0h2m-9 2h2m-10 1h2m23 7h2m-21 1h2m-13 3h2m-13 2h2m-14 1h2m39 1h2m11 1h2m-13 13h2m-48 12h2m35 1h2m-30 3h2m35 1h2m5 2h2m-12 3h2m-14 2h2m-19 4h2m15 3h2m5 2h2" stroke="#f22" stroke-width="1.7"/>
</g>
<path d="M1255.4 49.8H1541.3V336.2" fill="none" stroke="#7a7a7a" stroke-width="1.7"/>
<path d="M1247.9 336.2h7.5M1252.2 316.9h3.2M1252.2 305.5h3.2M1252.2 297.5h3.2M1251.4 291.3h4M1252.2 286.2h3.2M1252.2 281.9h3.2M1252.2 278.2h3.2M1252.2 274.9h3.2M1247.9 271.9h7.5M1252.2 252.6h3.2M1252.2 241.3h3.2M1252.2 233.3h3.2M1251.4 227h4M1252.2 222h3.2M1252.2 217.7h3.2M1252.2 213.9h3.2M1252.2 210.6h3.2M1247.9 207.7h7.5M1252.2 188.4h3.2M1252.2 177h3.2M1252.2 169h3.2M1251.4 162.8h4M1252.2 157.7h3.2M1252.2 153.4h3.2M1252.2 149.7h3.2M1252.2 146.4h3.2M1247.9 143.4h7.5M1252.2 124.1h3.2M1252.2 112.8h3.2M1252.2 104.8h3.2M1251.4 98.5h4M1252.2 93.5h3.2M1252.2 89.2h3.2M1252.2 85.4h3.2M1252.2 82.1h3.2M1247.9 79.2h7.5M1252.2 59.9h3.2M1255.4 336.2v6.5M1274.8 336.2v2.8M1286.1 336.2v2.8M1294.1 336.2v2.8M1300.3 336.2v3.6M1305.4 336.2v2.8M1309.7 336.2v2.8M1313.5 336.2v2.8M1316.8 336.2v2.8M1319.7 336.2v6.5M1339.1 336.2v2.8M1350.4 336.2v2.8M1358.4 336.2v2.8M1364.6 336.2v3.6M1369.7 336.2v2.8M1374 336.2v2.8M1377.8 336.2v2.8M1381.1 336.2v2.8M1384 336.2v6.5M1403.4 336.2v2.8M1414.7 336.2v2.8M1422.7 336.2v2.8M1428.9 336.2v3.6M1434 336.2v2.8M1438.3 336.2v2.8M1442.1 336.2v2.8M1445.4 336.2v2.8M1448.3 336.2v6.5M1467.7 336.2v2.8M1479 336.2v2.8M1487 336.2v2.8M1493.2 336.2v3.6M1498.3 336.2v2.8M1502.6 336.2v2.8M1506.4 336.2v2.8M1509.7 336.2v2.8M1512.6 336.2v6.5M1532 336.2v2.8" stroke="#3a3a3a" stroke-width="1.5"/>
<path d="M1247.9 336.2h7.5M1255.4 336.2v6.5M1247.9 271.9h7.5M1319.7 336.2v6.5M1247.9 207.7h7.5M1384 336.2v6.5M1247.9 143.4h7.5M1448.3 336.2v6.5M1247.9 79.2h7.5M1512.6 336.2v6.5" stroke="#333" stroke-width="2.2"/>
<path d="M1255.4 49.8V336.2H1541.3" fill="none" stroke="#444" stroke-width="1.8"/>
<text x="1239.4" y="367.2" font-family="'Liberation Serif','Times New Roman',serif" font-size="19.5" fill="#222">10<tspan font-size="12" dy="-9.5">1</tspan></text>
<text x="1222.4" y="345.8" font-family="'Liberation Serif','Times New Roman',serif" font-size="19.5" fill="#222">10<tspan font-size="12" dy="-9.5">1</tspan></text>
<text x="1303.7" y="367.2" font-family="'Liberation Serif','Times New Roman',serif" font-size="19.5" fill="#222">10<tspan font-size="12" dy="-9.5">2</tspan></text>
<text x="1222.4" y="281.6" font-family="'Liberation Serif','Times New Roman',serif" font-size="19.5" fill="#222">10<tspan font-size="12" dy="-9.5">2</tspan></text>
<text x="1368" y="367.2" font-family="'Liberation Serif','Times New Roman',serif" font-size="19.5" fill="#222">10<tspan font-size="12" dy="-9.5">3</tspan></text>
<text x="1222.4" y="217.3" font-family="'Liberation Serif','Times New Roman',serif" font-size="19.5" fill="#222">10<tspan font-size="12" dy="-9.5">3</tspan></text>
<text x="1432.3" y="367.2" font-family="'Liberation Serif','Times New Roman',serif" font-size="19.5" fill="#222">10<tspan font-size="12" dy="-9.5">4</tspan></text>
<text x="1222.4" y="153" font-family="'Liberation Serif','Times New Roman',serif" font-size="19.5" fill="#222">10<tspan font-size="12" dy="-9.5">4</tspan></text>
<text x="1496.6" y="367.2" font-family="'Liberation Serif','Times New Roman',serif" font-size="19.5" fill="#222">10<tspan font-size="12" dy="-9.5">5</tspan></text>
<text x="1222.4" y="88.8" font-family="'Liberation Serif','Times New Roman',serif" font-size="19.5" fill="#222">10<tspan font-size="12" dy="-9.5">5</tspan></text>
<path d="M1384 49.8L1384 336.2" stroke="#222" stroke-width="2"/>
<path d="M1255.4 207.7L1541.3 207.7" stroke="#222" stroke-width="2"/>
<text x="1260.9" y="88.3" font-family="'Liberation Serif','Times New Roman',serif" font-size="26" font-weight="bold" textLength="46" lengthAdjust="spacingAndGlyphs">4.33</text>
<text x="1509.3" y="88.3" font-family="'Liberation Serif','Times New Roman',serif" font-size="26" font-weight="bold" text-anchor="end" textLength="46" lengthAdjust="spacingAndGlyphs">3.61</text>
<text x="1260.9" y="313.9" font-family="'Liberation Serif','Times New Roman',serif" font-size="26" font-weight="bold" textLength="46" lengthAdjust="spacingAndGlyphs">89.8</text>
<text x="1509.3" y="313.9" font-family="'Liberation Serif','Times New Roman',serif" font-size="26" font-weight="bold" text-anchor="end" textLength="46" lengthAdjust="spacingAndGlyphs">2.28</text>
<g clip-path="url(#clip4)">
<rect x="1597" y="283" width="51" height="53" fill="url(#pst)"/>
<g filter="url(#spk4)"><ellipse cx="1668" cy="262" rx="65" ry="42.5" fill="url(#gc)" transform="rotate(-58 1668 262)"/><ellipse cx="1668" cy="265" rx="100" ry="70" fill="url(#gg)" opacity="0.35" transform="rotate(-45 1668 265)"/><ellipse cx="1627" cy="258" rx="32.5" ry="40" fill="url(#gg)" opacity="0.45"/><ellipse cx="1662" cy="310" rx="25" ry="50" fill="url(#gg)" opacity="0.50" transform="rotate(-85 1662 310)"/><ellipse cx="1622" cy="307" rx="30" ry="40" fill="url(#gg)" opacity="0.12"/><ellipse cx="1765" cy="195.5" rx="37.5" ry="4.5" fill="url(#gg)" opacity="0.85"/><ellipse cx="1776" cy="175.5" rx="40" ry="3.8" fill="url(#gg)" opacity="0.45"/><ellipse cx="1690" cy="196" rx="75" ry="20" fill="url(#gg)" opacity="0.22" transform="rotate(-10 1690 196)"/><ellipse cx="1660" cy="336.5" rx="150" ry="2" fill="url(#gg)" opacity="0.50"/><rect x="1597" y="232" width="43" height="51" fill="url(#vst)" opacity="0.5"/></g>
<path d="M1724 162h2m52 2h2m-66 1h2m56 2h2m-37 1h2m-33 1h2m11 1h2m98 0h2m-84 1h2m12 0h2m85 0h2m-107 1h2m6 0h2m-12 1h2m23 0h2m8 0h2m-49 4h2m-10 1h2m25 0h2m18 0h2m7 0h2m51 1h2m-137 1h2m97 0h2m-47 1h2m63 1h2m0 0h2m-50 1h2m0 4h2m-63 1h2m10 0h2m21 0h2m95 0h2m-62 1h2m6 2h2m47 0h2m-78 5h2m28 5h2m-35 4h2m39 1h2m6 12h2m18 1h2m9 2h2m-77 2h2m2 0h2m-21 2h2m38 2h2m4 2h2m41 3h2m-98 1h2m80 1h2m-63 5h2m44 2h2m-2 1h2m0 0h2m-63 1h2m85 0h2m-61 2h2m-21 1h2m-13 1h2m77 1h2m-42 1h2m-21 3h2m6 0h2m44 0h2m-48 1h2m-14 5h2m13 0h2m22 0h2m-62 3h2m35 0h2m32 0h2m-71 1h2m28 0h2m8 0h2m-27 4h2m24 0h2m-4 1h2m26 0h2m5 1h2m-64 1h2m60 0h2m-8 4h2m-23 1h2m-6 1h2m40 0h2m-68 2h2m56 3h2m-32 2h2m-21 2h2m-31 1h2m20 0h2m48 3h2m-10 3h2m5 1h2m9 2h2m-5 3h2m-41 1h2m-9 1h2m21 2h2m35 1h2m-61 1h2m15 1h2m19 3h2m-51 2h2m53 2h2m-48 1h2m26 2h2m9 4h2m12 1h2" stroke="#f22" stroke-width="1.7"/>
</g>
<path d="M1596 49H1886.4V338" fill="none" stroke="#7a7a7a" stroke-width="1.7"/>
<path d="M1588.5 338h7.5M1592.8 318.4h3.2M1592.8 306.9h3.2M1592.8 298.8h3.2M1592 292.5h4M1592.8 287.3h3.2M1592.8 282.9h3.2M1592.8 279.2h3.2M1592.8 275.8h3.2M1588.5 272.9h7.5M1592.8 253.2h3.2M1592.8 241.8h3.2M1592.8 233.6h3.2M1592 227.3h4M1592.8 222.2h3.2M1592.8 217.8h3.2M1592.8 214h3.2M1592.8 210.7h3.2M1588.5 207.7h7.5M1592.8 188.1h3.2M1592.8 176.6h3.2M1592.8 168.5h3.2M1592 162.2h4M1592.8 157h3.2M1592.8 152.6h3.2M1592.8 148.9h3.2M1592.8 145.5h3.2M1588.5 142.5h7.5M1592.8 122.9h3.2M1592.8 111.5h3.2M1592.8 103.3h3.2M1592 97h4M1592.8 91.9h3.2M1592.8 87.5h3.2M1592.8 83.7h3.2M1592.8 80.4h3.2M1588.5 77.4h7.5M1592.8 57.8h3.2M1596 338v6.5M1615.7 338v2.8M1627.2 338v2.8M1635.3 338v2.8M1641.6 338v3.6M1646.8 338v2.8M1651.2 338v2.8M1655 338v2.8M1658.3 338v2.8M1661.3 338v6.5M1681 338v2.8M1692.5 338v2.8M1700.6 338v2.8M1706.9 338v3.6M1712.1 338v2.8M1716.5 338v2.8M1720.3 338v2.8M1723.6 338v2.8M1726.6 338v6.5M1746.3 338v2.8M1757.8 338v2.8M1765.9 338v2.8M1772.2 338v3.6M1777.4 338v2.8M1781.8 338v2.8M1785.6 338v2.8M1788.9 338v2.8M1791.9 338v6.5M1811.6 338v2.8M1823.1 338v2.8M1831.2 338v2.8M1837.5 338v3.6M1842.7 338v2.8M1847.1 338v2.8M1850.9 338v2.8M1854.2 338v2.8M1857.2 338v6.5M1876.9 338v2.8" stroke="#3a3a3a" stroke-width="1.5"/>
<path d="M1588.5 338h7.5M1596 338v6.5M1588.5 272.9h7.5M1661.3 338v6.5M1588.5 207.7h7.5M1726.6 338v6.5M1588.5 142.5h7.5M1791.9 338v6.5M1588.5 77.4h7.5M1857.2 338v6.5" stroke="#333" stroke-width="2.2"/>
<path d="M1596 49V338H1886.4" fill="none" stroke="#444" stroke-width="1.8"/>
<text x="1580" y="369" font-family="'Liberation Serif','Times New Roman',serif" font-size="19.5" fill="#222">10<tspan font-size="12" dy="-9.5">1</tspan></text>
<text x="1563" y="347.6" font-family="'Liberation Serif','Times New Roman',serif" font-size="19.5" fill="#222">10<tspan font-size="12" dy="-9.5">1</tspan></text>
<text x="1645.3" y="369" font-family="'Liberation Serif','Times New Roman',serif" font-size="19.5" fill="#222">10<tspan font-size="12" dy="-9.5">2</tspan></text>
<text x="1563" y="282.5" font-family="'Liberation Serif','Times New Roman',serif" font-size="19.5" fill="#222">10<tspan font-size="12" dy="-9.5">2</tspan></text>
<text x="1710.6" y="369" font-family="'Liberation Serif','Times New Roman',serif" font-size="19.5" fill="#222">10<tspan font-size="12" dy="-9.5">3</tspan></text>
<text x="1563" y="217.3" font-family="'Liberation Serif','Times New Roman',serif" font-size="19.5" fill="#222">10<tspan font-size="12" dy="-9.5">3</tspan></text>
<text x="1775.9" y="369" font-family="'Liberation Serif','Times New Roman',serif" font-size="19.5" fill="#222">10<tspan font-size="12" dy="-9.5">4</tspan></text>
<text x="1563" y="152.1" font-family="'Liberation Serif','Times New Roman',serif" font-size="19.5" fill="#222">10<tspan font-size="12" dy="-9.5">4</tspan></text>
<text x="1841.2" y="369" font-family="'Liberation Serif','Times New Roman',serif" font-size="19.5" fill="#222">10<tspan font-size="12" dy="-9.5">5</tspan></text>
<text x="1563" y="87" font-family="'Liberation Serif','Times New Roman',serif" font-size="19.5" fill="#222">10<tspan font-size="12" dy="-9.5">5</tspan></text>
<path d="M1726.6 49L1726.6 338" stroke="#222" stroke-width="2"/>
<path d="M1596 207.7L1886.4 207.7" stroke="#222" stroke-width="2"/>
<text x="1601.5" y="87.5" font-family="'Liberation Serif','Times New Roman',serif" font-size="26" font-weight="bold" textLength="46" lengthAdjust="spacingAndGlyphs">1.21</text>
<text x="1854.4" y="87.5" font-family="'Liberation Serif','Times New Roman',serif" font-size="26" font-weight="bold" text-anchor="end" textLength="46" lengthAdjust="spacingAndGlyphs">4.03</text>
<text x="1601.5" y="315.7" font-family="'Liberation Serif','Times New Roman',serif" font-size="26" font-weight="bold" textLength="46" lengthAdjust="spacingAndGlyphs">93.4</text>
<text x="1854.4" y="315.7" font-family="'Liberation Serif','Times New Roman',serif" font-size="26" font-weight="bold" text-anchor="end" textLength="46" lengthAdjust="spacingAndGlyphs">1.31</text>
<g clip-path="url(#clip5)">
<g filter="url(#spk5)"><ellipse cx="305" cy="632" rx="70" ry="42.5" fill="url(#gc)" transform="rotate(-35 305 632)"/><ellipse cx="308" cy="630" rx="110" ry="70" fill="url(#gg)" opacity="0.35" transform="rotate(-30 308 630)"/><ellipse cx="360" cy="612" rx="45" ry="30" fill="url(#gg)" opacity="0.50" transform="rotate(-20 360 612)"/><ellipse cx="390" cy="630" rx="100" ry="60" fill="url(#gg)" opacity="0.25" transform="rotate(-15 390 630)"/><ellipse cx="265" cy="650" rx="37.5" ry="50" fill="url(#gg)" opacity="0.20"/><ellipse cx="390" cy="550" rx="80" ry="17.5" fill="url(#gg)" opacity="0.70"/><ellipse cx="385" cy="552" rx="50" ry="12.5" fill="url(#gg)" opacity="0.40"/><ellipse cx="400" cy="528" rx="75" ry="10" fill="url(#gg)" opacity="0.35"/><ellipse cx="392" cy="535" rx="112.5" ry="35" fill="url(#gg)" opacity="0.15" transform="rotate(-5 392 535)"/><ellipse cx="270" cy="704" rx="150" ry="2" fill="url(#gg)" opacity="0.50"/></g>
<path d="M465 493h2m-112 2h2m17 12h2m-6 2h2m-99 7h2m58 0h2m-6 1h2m59 0h2m-63 3h2m-13 4h2m-42 3h2m77 3h2m53 1h2m74 3h2m-126 2h2m40 0h2m-64 1h2m50 0h2m12 0h2m51 0h2m-64 1h2m24 0h2m-46 1h2m78 1h2m-16 1h2m9 0h2m-166 1h2m137 0h2m-122 2h2m93 1h2m9 0h2m-73 1h2m-95 3h2m64 0h2m127 4h2m-50 3h2m3 2h2m-91 3h2m17 0h2m45 0h2m0 4h2m6 0h2m61 7h2m28 3h2m-92 16h2m46 2h2m30 1h2m-31 1h2m-109 4h2m51 0h2m-45 2h2m10 1h2m111 2h2m-68 6h2m60 0h2m-117 3h2m-17 4h2m85 0h2m-36 1h2m-31 2h2m30 0h2m33 2h2m25 10h2m7 0h2m-7 2h2m-125 1h2m10 0h2m79 7h2m-72 1h2m58 2h2m-45 3h2m-4 5h2m81 1h2m-62 2h2m38 2h2m-15 1h2m34 3h2m-52 1h2m9 0h2m39 2h2m-79 1h2m55 3h2m-80 2h2m30 0h2m-2 2h2m-16 3h2m26 0h2m-45 6h2m-35 3h2m102 1h2m-23 5h2m51 1h2m-24 2h2m-34 5h2" stroke="#f22" stroke-width="1.7"/>
</g>
<path d="M206.3 418.5H494.1V705.4" fill="none" stroke="#7a7a7a" stroke-width="1.7"/>
<path d="M198.8 705.4h7.5M203.1 685.9h3.2M203.1 674.5h3.2M203.1 666.4h3.2M202.3 660.2h4M203.1 655.1h3.2M203.1 650.7h3.2M203.1 647h3.2M203.1 643.7h3.2M198.8 640.7h7.5M203.1 621.2h3.2M203.1 609.8h3.2M203.1 601.7h3.2M202.3 595.5h4M203.1 590.4h3.2M203.1 586h3.2M203.1 582.3h3.2M203.1 579h3.2M198.8 576h7.5M203.1 556.5h3.2M203.1 545.1h3.2M203.1 537h3.2M202.3 530.8h4M203.1 525.7h3.2M203.1 521.3h3.2M203.1 517.6h3.2M203.1 514.3h3.2M198.8 511.3h7.5M203.1 491.8h3.2M203.1 480.4h3.2M203.1 472.3h3.2M202.3 466.1h4M203.1 461h3.2M203.1 456.6h3.2M203.1 452.9h3.2M203.1 449.6h3.2M198.8 446.6h7.5M203.1 427.1h3.2M206.3 705.4v6.5M225.8 705.4v2.8M237.2 705.4v2.8M245.3 705.4v2.8M251.6 705.4v3.6M256.8 705.4v2.8M261.1 705.4v2.8M264.9 705.4v2.8M268.2 705.4v2.8M271.1 705.4v6.5M290.7 705.4v2.8M302.1 705.4v2.8M310.2 705.4v2.8M316.5 705.4v3.6M321.6 705.4v2.8M326 705.4v2.8M329.7 705.4v2.8M333 705.4v2.8M336 705.4v6.5M355.5 705.4v2.8M366.9 705.4v2.8M375 705.4v2.8M381.3 705.4v3.6M386.5 705.4v2.8M390.8 705.4v2.8M394.6 705.4v2.8M397.9 705.4v2.8M400.9 705.4v6.5M420.4 705.4v2.8M431.8 705.4v2.8M439.9 705.4v2.8M446.2 705.4v3.6M451.3 705.4v2.8M455.7 705.4v2.8M459.4 705.4v2.8M462.7 705.4v2.8M465.7 705.4v6.5M485.2 705.4v2.8" stroke="#3a3a3a" stroke-width="1.5"/>
<path d="M198.8 705.4h7.5M206.3 705.4v6.5M198.8 640.7h7.5M271.1 705.4v6.5M198.8 576h7.5M336 705.4v6.5M198.8 511.3h7.5M400.9 705.4v6.5M198.8 446.6h7.5M465.7 705.4v6.5" stroke="#333" stroke-width="2.2"/>
<path d="M206.3 418.5V705.4H494.1" fill="none" stroke="#444" stroke-width="1.8"/>
<text x="190.3" y="736.4" font-family="'Liberation Serif','Times New Roman',serif" font-size="19.5" fill="#222">10<tspan font-size="12" dy="-9.5">1</tspan></text>
<text x="173.3" y="715" font-family="'Liberation Serif','Times New Roman',serif" font-size="19.5" fill="#222">10<tspan font-size="12" dy="-9.5">1</tspan></text>
<text x="255.1" y="736.4" font-family="'Liberation Serif','Times New Roman',serif" font-size="19.5" fill="#222">10<tspan font-size="12" dy="-9.5">2</tspan></text>
<text x="173.3" y="650.3" font-family="'Liberation Serif','Times New Roman',serif" font-size="19.5" fill="#222">10<tspan font-size="12" dy="-9.5">2</tspan></text>
<text x="320" y="736.4" font-family="'Liberation Serif','Times New Roman',serif" font-size="19.5" fill="#222">10<tspan font-size="12" dy="-9.5">3</tspan></text>
<text x="173.3" y="585.6" font-family="'Liberation Serif','Times New Roman',serif" font-size="19.5" fill="#222">10<tspan font-size="12" dy="-9.5">3</tspan></text>
<text x="384.9" y="736.4" font-family="'Liberation Serif','Times New Roman',serif" font-size="19.5" fill="#222">10<tspan font-size="12" dy="-9.5">4</tspan></text>
<text x="173.3" y="520.9" font-family="'Liberation Serif','Times New Roman',serif" font-size="19.5" fill="#222">10<tspan font-size="12" dy="-9.5">4</tspan></text>
<text x="449.7" y="736.4" font-family="'Liberation Serif','Times New Roman',serif" font-size="19.5" fill="#222">10<tspan font-size="12" dy="-9.5">5</tspan></text>
<text x="173.3" y="456.2" font-family="'Liberation Serif','Times New Roman',serif" font-size="19.5" fill="#222">10<tspan font-size="12" dy="-9.5">5</tspan></text>
<path d="M336 418.5L336 705.4" stroke="#222" stroke-width="2"/>
<path d="M206.3 576L494.1 576" stroke="#222" stroke-width="2"/>
<text x="211.8" y="457" font-family="'Liberation Serif','Times New Roman',serif" font-size="26" font-weight="bold" textLength="46" lengthAdjust="spacingAndGlyphs">1.77</text>
<text x="462.1" y="457" font-family="'Liberation Serif','Times New Roman',serif" font-size="26" font-weight="bold" text-anchor="end" textLength="46" lengthAdjust="spacingAndGlyphs">21.8</text>
<text x="211.8" y="683.1" font-family="'Liberation Serif','Times New Roman',serif" font-size="26" font-weight="bold" textLength="46" lengthAdjust="spacingAndGlyphs">60.6</text>
<text x="462.1" y="683.1" font-family="'Liberation Serif','Times New Roman',serif" font-size="26" font-weight="bold" text-anchor="end" textLength="46" lengthAdjust="spacingAndGlyphs">15.8</text>
<g clip-path="url(#clip6)">
<g filter="url(#spk6)"><ellipse cx="658" cy="660" rx="67.5" ry="40" fill="url(#gc)" transform="rotate(-40 658 660)"/><ellipse cx="662" cy="655" rx="110" ry="65" fill="url(#gg)" opacity="0.35" transform="rotate(-35 662 655)"/><ellipse cx="715" cy="625" rx="50" ry="35" fill="url(#gg)" opacity="0.40" transform="rotate(-25 715 625)"/><ellipse cx="740" cy="635" rx="87.5" ry="62.5" fill="url(#gg)" opacity="0.20" transform="rotate(-20 740 635)"/><ellipse cx="650" cy="690" rx="62.5" ry="25" fill="url(#gg)" opacity="0.30"/><ellipse cx="725" cy="555" rx="112.5" ry="20" fill="url(#gc)" opacity="0.80"/><ellipse cx="735" cy="556" rx="75" ry="12.5" fill="url(#gg)" opacity="0.55"/><ellipse cx="745" cy="530" rx="100" ry="30" fill="url(#gg)" opacity="0.20" transform="rotate(-5 745 530)"/><ellipse cx="630" cy="703.5" rx="150" ry="2" fill="url(#gg)" opacity="0.50"/></g>
<path d="M812 494h2m-70 3h2m37 9h2m-24 3h2m17 1h2m-84 2h2m32 1h2m-88 2h2m99 1h2m-72 1h2m36 2h2m64 3h2m8 0h2m-126 1h2m44 0h2m42 0h2m-44 1h2m3 0h2m69 1h2m-68 1h2m51 0h2m-18 1h2m-73 1h2m26 0h2m13 0h2m13 0h2m18 0h2m-41 1h2m-1 3h2m-2 3h2m16 0h2m21 0h2m6 0h2m-18 2h2m-84 1h2m55 1h2m-51 1h2m91 1h2m-66 1h2m10 2h2m30 0h2m-90 1h2m3 0h2m63 0h2m0 1h2m-6 6h2m-51 5h2m1 1h2m-46 10h2m141 25h2m-19 5h2m-7 1h2m23 3h2m38 1h2m-89 1h2m37 0h2m-66 1h2m13 2h2m25 2h2m6 0h2m-33 1h2m9 2h2m71 1h2m-87 1h2m87 0h2m-110 1h2m8 3h2m-28 14h2m71 0h2m21 1h2m7 0h2m18 8h2m-116 2h2m25 4h2m13 5h2m-6 1h2m36 4h2m-87 2h2m48 4h2m23 1h2m-55 2h2m48 0h2m-73 3h2m71 3h2m-35 2h2m59 2h2m-64 2h2m69 2h2m-68 7h2m-55 1h2m1 0h2m98 1h2m-32 2h2m-21 2h2m39 0h2m-7 2h2m23 2h2m-91 1h2m68 0h2" stroke="#f22" stroke-width="1.7"/>
</g>
<path d="M563.2 415.7H852.9V705" fill="none" stroke="#7a7a7a" stroke-width="1.7"/>
<path d="M555.7 705h7.5M560 685.3h3.2M560 673.8h3.2M560 665.6h3.2M559.2 659.3h4M560 654.1h3.2M560 649.7h3.2M560 645.9h3.2M560 642.6h3.2M555.7 639.6h7.5M560 619.9h3.2M560 608.4h3.2M560 600.2h3.2M559.2 593.9h4M560 588.7h3.2M560 584.3h3.2M560 580.5h3.2M560 577.2h3.2M555.7 574.2h7.5M560 554.5h3.2M560 543h3.2M560 534.8h3.2M559.2 528.5h4M560 523.3h3.2M560 518.9h3.2M560 515.1h3.2M560 511.8h3.2M555.7 508.8h7.5M560 489.1h3.2M560 477.6h3.2M560 469.4h3.2M559.2 463.1h4M560 457.9h3.2M560 453.5h3.2M560 449.7h3.2M560 446.4h3.2M555.7 443.4h7.5M560 423.7h3.2M563.2 705v6.5M582.8 705v2.8M594.3 705v2.8M602.5 705v2.8M608.8 705v3.6M613.9 705v2.8M618.3 705v2.8M622.1 705v2.8M625.4 705v2.8M628.4 705v6.5M648 705v2.8M659.5 705v2.8M667.7 705v2.8M674 705v3.6M679.1 705v2.8M683.5 705v2.8M687.3 705v2.8M690.6 705v2.8M693.6 705v6.5M713.2 705v2.8M724.7 705v2.8M732.9 705v2.8M739.2 705v3.6M744.3 705v2.8M748.7 705v2.8M752.5 705v2.8M755.8 705v2.8M758.8 705v6.5M778.4 705v2.8M789.9 705v2.8M798.1 705v2.8M804.4 705v3.6M809.5 705v2.8M813.9 705v2.8M817.7 705v2.8M821 705v2.8M824 705v6.5M843.6 705v2.8" stroke="#3a3a3a" stroke-width="1.5"/>
<path d="M555.7 705h7.5M563.2 705v6.5M555.7 639.6h7.5M628.4 705v6.5M555.7 574.2h7.5M693.6 705v6.5M555.7 508.8h7.5M758.8 705v6.5M555.7 443.4h7.5M824 705v6.5" stroke="#333" stroke-width="2.2"/>
<path d="M563.2 415.7V705H852.9" fill="none" stroke="#444" stroke-width="1.8"/>
<text x="547.2" y="736" font-family="'Liberation Serif','Times New Roman',serif" font-size="19.5" fill="#222">10<tspan font-size="12" dy="-9.5">1</tspan></text>
<text x="530.2" y="714.6" font-family="'Liberation Serif','Times New Roman',serif" font-size="19.5" fill="#222">10<tspan font-size="12" dy="-9.5">1</tspan></text>
<text x="612.4" y="736" font-family="'Liberation Serif','Times New Roman',serif" font-size="19.5" fill="#222">10<tspan font-size="12" dy="-9.5">2</tspan></text>
<text x="530.2" y="649.2" font-family="'Liberation Serif','Times New Roman',serif" font-size="19.5" fill="#222">10<tspan font-size="12" dy="-9.5">2</tspan></text>
<text x="677.6" y="736" font-family="'Liberation Serif','Times New Roman',serif" font-size="19.5" fill="#222">10<tspan font-size="12" dy="-9.5">3</tspan></text>
<text x="530.2" y="583.8" font-family="'Liberation Serif','Times New Roman',serif" font-size="19.5" fill="#222">10<tspan font-size="12" dy="-9.5">3</tspan></text>
<text x="742.8" y="736" font-family="'Liberation Serif','Times New Roman',serif" font-size="19.5" fill="#222">10<tspan font-size="12" dy="-9.5">4</tspan></text>
<text x="530.2" y="518.4" font-family="'Liberation Serif','Times New Roman',serif" font-size="19.5" fill="#222">10<tspan font-size="12" dy="-9.5">4</tspan></text>
<text x="808" y="736" font-family="'Liberation Serif','Times New Roman',serif" font-size="19.5" fill="#222">10<tspan font-size="12" dy="-9.5">5</tspan></text>
<text x="530.2" y="453" font-family="'Liberation Serif','Times New Roman',serif" font-size="19.5" fill="#222">10<tspan font-size="12" dy="-9.5">5</tspan></text>
<path d="M693.6 415.7L693.6 705" stroke="#222" stroke-width="2"/>
<path d="M563.2 574.2L852.9 574.2" stroke="#222" stroke-width="2"/>
<text x="568.7" y="454.2" font-family="'Liberation Serif','Times New Roman',serif" font-size="26" font-weight="bold" textLength="46" lengthAdjust="spacingAndGlyphs">5.09</text>
<text x="820.9" y="454.2" font-family="'Liberation Serif','Times New Roman',serif" font-size="26" font-weight="bold" text-anchor="end" textLength="46" lengthAdjust="spacingAndGlyphs">28.3</text>
<text x="568.7" y="682.7" font-family="'Liberation Serif','Times New Roman',serif" font-size="26" font-weight="bold" textLength="46" lengthAdjust="spacingAndGlyphs">56.3</text>
<text x="820.9" y="682.7" font-family="'Liberation Serif','Times New Roman',serif" font-size="26" font-weight="bold" text-anchor="end" textLength="46" lengthAdjust="spacingAndGlyphs">10.3</text>
<g clip-path="url(#clip7)">
<rect x="911" y="652" width="49" height="54" fill="url(#pst)"/>
<g filter="url(#spk7)"><ellipse cx="988" cy="630" rx="80" ry="42.5" fill="url(#gc)" transform="rotate(-40 988 630)"/><ellipse cx="985" cy="635" rx="115" ry="70" fill="url(#gg)" opacity="0.35" transform="rotate(-35 985 635)"/><ellipse cx="945" cy="640" rx="45" ry="25" fill="url(#gg)" opacity="0.55" transform="rotate(-20 945 640)"/><ellipse cx="985" cy="680" rx="45" ry="35" fill="url(#gg)" opacity="0.40"/><ellipse cx="935" cy="680" rx="35" ry="35" fill="url(#gg)" opacity="0.15"/><ellipse cx="1057" cy="545" rx="65" ry="8.8" fill="url(#gc)" opacity="0.95"/><ellipse cx="1090" cy="523" rx="47.5" ry="6.5" fill="url(#gg)" opacity="0.75"/><ellipse cx="1060" cy="545" rx="100" ry="40" fill="url(#gg)" opacity="0.20" transform="rotate(-10 1060 545)"/><ellipse cx="1070" cy="630" rx="87.5" ry="87.5" fill="url(#gg)" opacity="0.12"/><ellipse cx="975" cy="706" rx="150" ry="2" fill="url(#gg)" opacity="0.50"/><rect x="911" y="612" width="47" height="40" fill="url(#vst)" opacity="0.4"/></g>
<path d="M1055 504h2m30 2h2m5 5h2m-4 2h2m-2 1h2m-14 2h2m-8 3h2m-37 2h2m30 0h2m-65 1h2m66 2h2m18 3h2m-40 1h2m-10 1h2m28 1h2m-127 1h2m122 0h2m-19 1h2m-29 4h2m24 0h2m-44 1h2m82 0h2m-65 1h2m5 0h2m101 4h2m-102 4h2m101 1h2m-76 1h2m-86 1h2m88 0h2m41 1h2m-128 1h2m-45 1h2m110 0h2m113 1h2m-140 1h2m17 0h2m-75 3h2m34 0h2m32 0h2m17 0h2m-77 1h2m20 6h2m115 0h2m-4 1h2m-120 1h2m-4 2h2m16 1h2m23 3h2m-16 20h2m49 2h2m-60 5h2m49 2h2m32 0h2m-55 1h2m26 1h2m-69 4h2m102 2h2m-37 1h2m-40 4h2m80 0h2m-103 6h2m19 4h2m27 2h2m-1 1h2m-42 1h2m-13 1h2m8 0h2m31 0h2m-20 4h2m75 1h2m-46 2h2m-7 2h2m47 2h2m-95 3h2m23 0h2m64 0h2m-93 1h2m50 1h2m-62 6h2m36 0h2m63 0h2m-25 2h2m17 2h2m-36 2h2m3 1h2m-7 2h2m-77 3h2m96 2h2m-102 1h2m61 2h2m-1 1h2m39 0h2m-6 4h2m6 0h2m-110 1h2m93 0h2m3 3h2m-11 1h2m-16 1h2m-64 4h2m23 1h2m70 0h2m-104 1h2m24 1h2m-15 2h2m43 0h2m27 0h2m-21 1h2" stroke="#f22" stroke-width="1.7"/>
</g>
<path d="M909.5 417.3H1199.2V707.7" fill="none" stroke="#7a7a7a" stroke-width="1.7"/>
<path d="M902 707.7h7.5M906.3 688.1h3.2M906.3 676.6h3.2M906.3 668.4h3.2M905.5 662.1h4M906.3 657h3.2M906.3 652.6h3.2M906.3 648.8h3.2M906.3 645.5h3.2M902 642.5h7.5M906.3 622.9h3.2M906.3 611.4h3.2M906.3 603.2h3.2M905.5 596.9h4M906.3 591.8h3.2M906.3 587.4h3.2M906.3 583.6h3.2M906.3 580.3h3.2M902 577.3h7.5M906.3 557.7h3.2M906.3 546.2h3.2M906.3 538h3.2M905.5 531.7h4M906.3 526.6h3.2M906.3 522.2h3.2M906.3 518.4h3.2M906.3 515.1h3.2M902 512.1h7.5M906.3 492.5h3.2M906.3 481h3.2M906.3 472.8h3.2M905.5 466.5h4M906.3 461.4h3.2M906.3 457h3.2M906.3 453.2h3.2M906.3 449.9h3.2M902 446.9h7.5M906.3 427.3h3.2M909.5 707.7v6.5M929.1 707.7v2.8M940.6 707.7v2.8M948.7 707.7v2.8M955 707.7v3.6M960.2 707.7v2.8M964.5 707.7v2.8M968.3 707.7v2.8M971.6 707.7v2.8M974.6 707.7v6.5M994.2 707.7v2.8M1005.7 707.7v2.8M1013.8 707.7v2.8M1020.1 707.7v3.6M1025.3 707.7v2.8M1029.6 707.7v2.8M1033.4 707.7v2.8M1036.7 707.7v2.8M1039.7 707.7v6.5M1059.3 707.7v2.8M1070.8 707.7v2.8M1078.9 707.7v2.8M1085.2 707.7v3.6M1090.4 707.7v2.8M1094.7 707.7v2.8M1098.5 707.7v2.8M1101.8 707.7v2.8M1104.8 707.7v6.5M1124.4 707.7v2.8M1135.9 707.7v2.8M1144 707.7v2.8M1150.3 707.7v3.6M1155.5 707.7v2.8M1159.8 707.7v2.8M1163.6 707.7v2.8M1166.9 707.7v2.8M1169.9 707.7v6.5M1189.5 707.7v2.8" stroke="#3a3a3a" stroke-width="1.5"/>
<path d="M902 707.7h7.5M909.5 707.7v6.5M902 642.5h7.5M974.6 707.7v6.5M902 577.3h7.5M1039.7 707.7v6.5M902 512.1h7.5M1104.8 707.7v6.5M902 446.9h7.5M1169.9 707.7v6.5" stroke="#333" stroke-width="2.2"/>
<path d="M909.5 417.3V707.7H1199.2" fill="none" stroke="#444" stroke-width="1.8"/>
<text x="893.5" y="738.7" font-family="'Liberation Serif','Times New Roman',serif" font-size="19.5" fill="#222">10<tspan font-size="12" dy="-9.5">1</tspan></text>
<text x="876.5" y="717.3" font-family="'Liberation Serif','Times New Roman',serif" font-size="19.5" fill="#222">10<tspan font-size="12" dy="-9.5">1</tspan></text>
<text x="958.6" y="738.7" font-family="'Liberation Serif','Times New Roman',serif" font-size="19.5" fill="#222">10<tspan font-size="12" dy="-9.5">2</tspan></text>
<text x="876.5" y="652.1" font-family="'Liberation Serif','Times New Roman',serif" font-size="19.5" fill="#222">10<tspan font-size="12" dy="-9.5">2</tspan></text>
<text x="1023.7" y="738.7" font-family="'Liberation Serif','Times New Roman',serif" font-size="19.5" fill="#222">10<tspan font-size="12" dy="-9.5">3</tspan></text>
<text x="876.5" y="586.9" font-family="'Liberation Serif','Times New Roman',serif" font-size="19.5" fill="#222">10<tspan font-size="12" dy="-9.5">3</tspan></text>
<text x="1088.8" y="738.7" font-family="'Liberation Serif','Times New Roman',serif" font-size="19.5" fill="#222">10<tspan font-size="12" dy="-9.5">4</tspan></text>
<text x="876.5" y="521.7" font-family="'Liberation Serif','Times New Roman',serif" font-size="19.5" fill="#222">10<tspan font-size="12" dy="-9.5">4</tspan></text>
<text x="1153.9" y="738.7" font-family="'Liberation Serif','Times New Roman',serif" font-size="19.5" fill="#222">10<tspan font-size="12" dy="-9.5">5</tspan></text>
<text x="876.5" y="456.5" font-family="'Liberation Serif','Times New Roman',serif" font-size="19.5" fill="#222">10<tspan font-size="12" dy="-9.5">5</tspan></text>
<path d="M1039.7 417.3L1039.7 707.7" stroke="#222" stroke-width="2"/>
<path d="M909.5 577.3L1199.2 577.3" stroke="#222" stroke-width="2"/>
<text x="915" y="455.8" font-family="'Liberation Serif','Times New Roman',serif" font-size="26" font-weight="bold" textLength="46" lengthAdjust="spacingAndGlyphs">3.69</text>
<text x="1167.2" y="455.8" font-family="'Liberation Serif','Times New Roman',serif" font-size="26" font-weight="bold" text-anchor="end" textLength="46" lengthAdjust="spacingAndGlyphs">16.5</text>
<text x="915" y="685.4" font-family="'Liberation Serif','Times New Roman',serif" font-size="26" font-weight="bold" textLength="46" lengthAdjust="spacingAndGlyphs">75.4</text>
<text x="1167.2" y="685.4" font-family="'Liberation Serif','Times New Roman',serif" font-size="26" font-weight="bold" text-anchor="end" textLength="46" lengthAdjust="spacingAndGlyphs">4.43</text>
<g clip-path="url(#clip8)">
<g filter="url(#spk8)"><ellipse cx="1333" cy="652" rx="65" ry="40" fill="url(#gc)" opacity="0.78" transform="rotate(-40 1333 652)"/><ellipse cx="1338" cy="648" rx="105" ry="65" fill="url(#gg)" opacity="0.35" transform="rotate(-35 1338 648)"/><ellipse cx="1405" cy="628" rx="75" ry="70" fill="url(#gg)" opacity="0.28" transform="rotate(-10 1405 628)"/><ellipse cx="1318" cy="690" rx="37.5" ry="30" fill="url(#gg)" opacity="0.30"/><ellipse cx="1396" cy="556" rx="95" ry="16.2" fill="url(#gc)"/><ellipse cx="1410" cy="532" rx="90" ry="20" fill="url(#gg)" opacity="0.35"/><ellipse cx="1435" cy="522" rx="70" ry="25" fill="url(#gg)" opacity="0.15" transform="rotate(-15 1435 522)"/><ellipse cx="1310" cy="706.5" rx="150" ry="2" fill="url(#gg)" opacity="0.50"/></g>
<path d="M1478 492h2m27 6h2m-41 1h2m12 2h2m-39 6h2m-40 1h2m37 0h2m10 2h2m-26 3h2m-24 5h2m89 0h2m-90 2h2m31 4h2m-3 1h2m-64 1h2m46 1h2m-18 3h2m12 0h2m19 1h2m-66 3h2m13 0h2m36 1h2m-18 4h2m-48 2h2m5 1h2m31 0h2m38 5h2m-14 3h2m-51 4h2m2 9h2m82 29h2m-51 3h2m52 12h2m-82 2h2m18 0h2m28 0h2m-75 2h2m77 5h2m-63 1h2m1 1h2m18 2h2m12 13h2m-56 2h2m88 0h2m-37 1h2m53 0h2m-58 1h2m-61 3h2m32 2h2m27 1h2m0 0h2m7 2h2m-67 3h2m59 3h2m-30 3h2m10 0h2m-28 2h2m3 5h2m34 4h2m-34 2h2m-23 6h2m-11 2h2m56 0h2m-5 2h2m44 1h2m-38 4h2m-41 3h2m-2 1h2m51 4h2" stroke="#f22" stroke-width="1.7"/>
</g>
<path d="M1245.2 417.9H1535.2V708" fill="none" stroke="#7a7a7a" stroke-width="1.7"/>
<path d="M1237.7 708h7.5M1242 688.3h3.2M1242 676.8h3.2M1242 668.7h3.2M1241.2 662.3h4M1242 657.1h3.2M1242 652.8h3.2M1242 649h3.2M1242 645.6h3.2M1237.7 642.6h7.5M1242 623h3.2M1242 611.5h3.2M1242 603.3h3.2M1241.2 597h4M1242 591.8h3.2M1242 587.4h3.2M1242 583.6h3.2M1242 580.3h3.2M1237.7 577.3h7.5M1242 557.6h3.2M1242 546.1h3.2M1242 538h3.2M1241.2 531.6h4M1242 526.4h3.2M1242 522.1h3.2M1242 518.3h3.2M1242 514.9h3.2M1237.7 511.9h7.5M1242 492.3h3.2M1242 480.8h3.2M1242 472.6h3.2M1241.2 466.3h4M1242 461.1h3.2M1242 456.7h3.2M1242 452.9h3.2M1242 449.6h3.2M1237.7 446.6h7.5M1242 426.9h3.2M1245.2 708v6.5M1264.9 708v2.8M1276.5 708v2.8M1284.6 708v2.8M1291 708v3.6M1296.2 708v2.8M1300.6 708v2.8M1304.4 708v2.8M1307.7 708v2.8M1310.7 708v6.5M1330.4 708v2.8M1342 708v2.8M1350.1 708v2.8M1356.5 708v3.6M1361.7 708v2.8M1366.1 708v2.8M1369.9 708v2.8M1373.2 708v2.8M1376.2 708v6.5M1395.9 708v2.8M1407.5 708v2.8M1415.6 708v2.8M1422 708v3.6M1427.2 708v2.8M1431.6 708v2.8M1435.4 708v2.8M1438.7 708v2.8M1441.7 708v6.5M1461.4 708v2.8M1473 708v2.8M1481.1 708v2.8M1487.5 708v3.6M1492.7 708v2.8M1497.1 708v2.8M1500.9 708v2.8M1504.2 708v2.8M1507.2 708v6.5M1526.9 708v2.8" stroke="#3a3a3a" stroke-width="1.5"/>
<path d="M1237.7 708h7.5M1245.2 708v6.5M1237.7 642.6h7.5M1310.7 708v6.5M1237.7 577.3h7.5M1376.2 708v6.5M1237.7 511.9h7.5M1441.7 708v6.5M1237.7 446.6h7.5M1507.2 708v6.5" stroke="#333" stroke-width="2.2"/>
<path d="M1245.2 417.9V708H1535.2" fill="none" stroke="#444" stroke-width="1.8"/>
<text x="1229.2" y="739" font-family="'Liberation Serif','Times New Roman',serif" font-size="19.5" fill="#222">10<tspan font-size="12" dy="-9.5">1</tspan></text>
<text x="1212.2" y="717.6" font-family="'Liberation Serif','Times New Roman',serif" font-size="19.5" fill="#222">10<tspan font-size="12" dy="-9.5">1</tspan></text>
<text x="1294.7" y="739" font-family="'Liberation Serif','Times New Roman',serif" font-size="19.5" fill="#222">10<tspan font-size="12" dy="-9.5">2</tspan></text>
<text x="1212.2" y="652.2" font-family="'Liberation Serif','Times New Roman',serif" font-size="19.5" fill="#222">10<tspan font-size="12" dy="-9.5">2</tspan></text>
<text x="1360.2" y="739" font-family="'Liberation Serif','Times New Roman',serif" font-size="19.5" fill="#222">10<tspan font-size="12" dy="-9.5">3</tspan></text>
<text x="1212.2" y="586.9" font-family="'Liberation Serif','Times New Roman',serif" font-size="19.5" fill="#222">10<tspan font-size="12" dy="-9.5">3</tspan></text>
<text x="1425.7" y="739" font-family="'Liberation Serif','Times New Roman',serif" font-size="19.5" fill="#222">10<tspan font-size="12" dy="-9.5">4</tspan></text>
<text x="1212.2" y="521.5" font-family="'Liberation Serif','Times New Roman',serif" font-size="19.5" fill="#222">10<tspan font-size="12" dy="-9.5">4</tspan></text>
<text x="1491.2" y="739" font-family="'Liberation Serif','Times New Roman',serif" font-size="19.5" fill="#222">10<tspan font-size="12" dy="-9.5">5</tspan></text>
<text x="1212.2" y="456.2" font-family="'Liberation Serif','Times New Roman',serif" font-size="19.5" fill="#222">10<tspan font-size="12" dy="-9.5">5</tspan></text>
<path d="M1376.2 417.9L1376.2 708" stroke="#222" stroke-width="2"/>
<path d="M1245.2 577.3L1535.2 577.3" stroke="#222" stroke-width="2"/>
<text x="1250.7" y="456.4" font-family="'Liberation Serif','Times New Roman',serif" font-size="26" font-weight="bold" textLength="46" lengthAdjust="spacingAndGlyphs">15.2</text>
<text x="1503.2" y="456.4" font-family="'Liberation Serif','Times New Roman',serif" font-size="26" font-weight="bold" text-anchor="end" textLength="46" lengthAdjust="spacingAndGlyphs">35.7</text>
<text x="1250.7" y="685.7" font-family="'Liberation Serif','Times New Roman',serif" font-size="26" font-weight="bold" textLength="46" lengthAdjust="spacingAndGlyphs">43.8</text>
<text x="1503.2" y="685.7" font-family="'Liberation Serif','Times New Roman',serif" font-size="26" font-weight="bold" text-anchor="end" textLength="46" lengthAdjust="spacingAndGlyphs">5.24</text>
<g clip-path="url(#clip9)">
<g filter="url(#spk9)"><ellipse cx="1688" cy="658" rx="62.5" ry="40" fill="url(#gc)" opacity="0.82" transform="rotate(-40 1688 658)"/><ellipse cx="1693" cy="653" rx="105" ry="65" fill="url(#gg)" opacity="0.35" transform="rotate(-35 1693 653)"/><ellipse cx="1760" cy="632" rx="95" ry="65" fill="url(#gg)" opacity="0.30" transform="rotate(-15 1760 632)"/><ellipse cx="1680" cy="690" rx="37.5" ry="30" fill="url(#gg)" opacity="0.35"/><ellipse cx="1768" cy="556" rx="105" ry="17.5" fill="url(#gc)" opacity="0.85"/><ellipse cx="1778" cy="533" rx="95" ry="22.5" fill="url(#gg)" opacity="0.30"/><ellipse cx="1660" cy="706" rx="150" ry="2" fill="url(#gg)" opacity="0.50"/></g>
<path d="M1826 504h2m-37 2h2m-52 2h2m-37 1h2m26 1h2m-10 1h2m60 0h2m15 1h2m-47 2h2m61 1h2m-24 1h2m-66 1h2m53 3h2m15 0h2m-12 1h2m-76 3h2m78 0h2m7 1h2m-46 1h2m28 0h2m40 0h2m-79 3h2m49 0h2m3 0h2m-45 1h2m56 1h2m7 0h2m-66 1h2m12 0h2m12 0h2m17 1h2m-102 1h2m35 0h2m24 0h2m68 0h2m-109 2h2m23 0h2m15 2h2m-109 4h2m141 0h2m-1 1h2m-91 2h2m20 0h2m44 4h2m-66 1h2m62 0h2m56 0h2m-86 2h2m-79 21h2m112 18h2m0 5h2m-68 2h2m59 0h2m23 1h2m-112 2h2m36 0h2m74 4h2m-87 3h2m46 2h2m-63 2h2m10 0h2m22 0h2m40 8h2m-92 4h2m36 1h2m-7 3h2m34 2h2m-77 7h2m35 0h2m54 1h2m-80 2h2m1 4h2m13 0h2m42 2h2m33 1h2m-66 2h2m-1 2h2m3 0h2m45 8h2m11 6h2m-93 1h2m49 3h2m-27 1h2m42 0h2m-70 2h2m62 4h2m-93 5h2m32 6h2" stroke="#f22" stroke-width="1.7"/>
</g>
<path d="M1595.4 417.7H1886.4V707.7" fill="none" stroke="#7a7a7a" stroke-width="1.7"/>
<path d="M1587.9 707.7h7.5M1592.2 688.1h3.2M1592.2 676.6h3.2M1592.2 668.4h3.2M1591.4 662.1h4M1592.2 657h3.2M1592.2 652.6h3.2M1592.2 648.8h3.2M1592.2 645.5h3.2M1587.9 642.5h7.5M1592.2 622.9h3.2M1592.2 611.4h3.2M1592.2 603.2h3.2M1591.4 596.9h4M1592.2 591.8h3.2M1592.2 587.4h3.2M1592.2 583.6h3.2M1592.2 580.3h3.2M1587.9 577.3h7.5M1592.2 557.7h3.2M1592.2 546.2h3.2M1592.2 538h3.2M1591.4 531.7h4M1592.2 526.6h3.2M1592.2 522.2h3.2M1592.2 518.4h3.2M1592.2 515.1h3.2M1587.9 512.1h7.5M1592.2 492.5h3.2M1592.2 481h3.2M1592.2 472.8h3.2M1591.4 466.5h4M1592.2 461.4h3.2M1592.2 457h3.2M1592.2 453.2h3.2M1592.2 449.9h3.2M1587.9 446.9h7.5M1592.2 427.3h3.2M1595.4 707.7v6.5M1615.1 707.7v2.8M1626.7 707.7v2.8M1634.8 707.7v2.8M1641.2 707.7v3.6M1646.4 707.7v2.8M1650.8 707.7v2.8M1654.6 707.7v2.8M1657.9 707.7v2.8M1660.9 707.7v6.5M1680.6 707.7v2.8M1692.2 707.7v2.8M1700.3 707.7v2.8M1706.7 707.7v3.6M1711.9 707.7v2.8M1716.3 707.7v2.8M1720.1 707.7v2.8M1723.4 707.7v2.8M1726.4 707.7v6.5M1746.1 707.7v2.8M1757.7 707.7v2.8M1765.8 707.7v2.8M1772.2 707.7v3.6M1777.4 707.7v2.8M1781.8 707.7v2.8M1785.6 707.7v2.8M1788.9 707.7v2.8M1791.9 707.7v6.5M1811.6 707.7v2.8M1823.2 707.7v2.8M1831.3 707.7v2.8M1837.7 707.7v3.6M1842.9 707.7v2.8M1847.3 707.7v2.8M1851.1 707.7v2.8M1854.4 707.7v2.8M1857.4 707.7v6.5M1877.1 707.7v2.8" stroke="#3a3a3a" stroke-width="1.5"/>
<path d="M1587.9 707.7h7.5M1595.4 707.7v6.5M1587.9 642.5h7.5M1660.9 707.7v6.5M1587.9 577.3h7.5M1726.4 707.7v6.5M1587.9 512.1h7.5M1791.9 707.7v6.5M1587.9 446.9h7.5M1857.4 707.7v6.5" stroke="#333" stroke-width="2.2"/>
<path d="M1595.4 417.7V707.7H1886.4" fill="none" stroke="#444" stroke-width="1.8"/>
<text x="1579.4" y="738.7" font-family="'Liberation Serif','Times New Roman',serif" font-size="19.5" fill="#222">10<tspan font-size="12" dy="-9.5">1</tspan></text>
<text x="1562.4" y="717.3" font-family="'Liberation Serif','Times New Roman',serif" font-size="19.5" fill="#222">10<tspan font-size="12" dy="-9.5">1</tspan></text>
<text x="1644.9" y="738.7" font-family="'Liberation Serif','Times New Roman',serif" font-size="19.5" fill="#222">10<tspan font-size="12" dy="-9.5">2</tspan></text>
<text x="1562.4" y="652.1" font-family="'Liberation Serif','Times New Roman',serif" font-size="19.5" fill="#222">10<tspan font-size="12" dy="-9.5">2</tspan></text>
<text x="1710.4" y="738.7" font-family="'Liberation Serif','Times New Roman',serif" font-size="19.5" fill="#222">10<tspan font-size="12" dy="-9.5">3</tspan></text>
<text x="1562.4" y="586.9" font-family="'Liberation Serif','Times New Roman',serif" font-size="19.5" fill="#222">10<tspan font-size="12" dy="-9.5">3</tspan></text>
<text x="1775.9" y="738.7" font-family="'Liberation Serif','Times New Roman',serif" font-size="19.5" fill="#222">10<tspan font-size="12" dy="-9.5">4</tspan></text>
<text x="1562.4" y="521.7" font-family="'Liberation Serif','Times New Roman',serif" font-size="19.5" fill="#222">10<tspan font-size="12" dy="-9.5">4</tspan></text>
<text x="1841.4" y="738.7" font-family="'Liberation Serif','Times New Roman',serif" font-size="19.5" fill="#222">10<tspan font-size="12" dy="-9.5">5</tspan></text>
<text x="1562.4" y="456.5" font-family="'Liberation Serif','Times New Roman',serif" font-size="19.5" fill="#222">10<tspan font-size="12" dy="-9.5">5</tspan></text>
<path d="M1726.4 417.7L1726.4 707.7" stroke="#222" stroke-width="2"/>
<path d="M1595.4 577.3L1886.4 577.3" stroke="#222" stroke-width="2"/>
<text x="1600.9" y="456.2" font-family="'Liberation Serif','Times New Roman',serif" font-size="26" font-weight="bold" textLength="46" lengthAdjust="spacingAndGlyphs">4.91</text>
<text x="1854.4" y="456.2" font-family="'Liberation Serif','Times New Roman',serif" font-size="26" font-weight="bold" text-anchor="end" textLength="46" lengthAdjust="spacingAndGlyphs">30.2</text>
<text x="1600.9" y="685.4" font-family="'Liberation Serif','Times New Roman',serif" font-size="26" font-weight="bold" textLength="46" lengthAdjust="spacingAndGlyphs">55.0</text>
<text x="1854.4" y="685.4" font-family="'Liberation Serif','Times New Roman',serif" font-size="26" font-weight="bold" text-anchor="end" textLength="46" lengthAdjust="spacingAndGlyphs">9.97</text>
<text x="314.2" y="32.8" font-family="'Liberation Serif','Times New Roman',serif" font-size="35" font-weight="bold" textLength="82" lengthAdjust="spacingAndGlyphs">Naive</text>
<text x="639.4" y="32.8" font-family="'Liberation Serif','Times New Roman',serif" font-size="35" font-weight="bold" textLength="119" lengthAdjust="spacingAndGlyphs">Vehicle1</text>
<text x="961.1" y="32.8" font-family="'Liberation Serif','Times New Roman',serif" font-size="35" font-weight="bold" textLength="173.8" lengthAdjust="spacingAndGlyphs">WT-TRPC6</text>
<text x="1344.8" y="32.8" font-family="'Liberation Serif','Times New Roman',serif" font-size="35" font-weight="bold" textLength="119.2" lengthAdjust="spacingAndGlyphs">Vehicle2</text>
<text x="1655.7" y="32.8" font-family="'Liberation Serif','Times New Roman',serif" font-size="35" font-weight="bold" textLength="153" lengthAdjust="spacingAndGlyphs">sh-TRPC6</text>
<text x="70.3" y="207.7" font-family="'Liberation Serif','Times New Roman',serif" font-size="33.5" font-weight="bold" textLength="73.3" lengthAdjust="spacingAndGlyphs">CON</text>
<text x="70.3" y="580.2" font-family="'Liberation Serif','Times New Roman',serif" font-size="33.5" font-weight="bold" textLength="76.1" lengthAdjust="spacingAndGlyphs">OGD</text>
<text x="24.1" y="30.8" font-family="'Liberation Sans',Arial,sans-serif" font-size="31" font-weight="bold">A</text>
<path d="M1904.5 54L1904.5 761.5" stroke="#000" stroke-width="4.4"/>
<path d="M191 759.3L1906.7 759.3" stroke="#000" stroke-width="4.4"/>
<text x="1916" y="390.2" font-family="'Liberation Serif','Times New Roman',serif" font-size="32" font-weight="bold" textLength="82.4" lengthAdjust="spacingAndGlyphs">DAPI</text>
<text x="929.9" y="798.7" font-family="'Liberation Serif','Times New Roman',serif" font-size="34" font-weight="bold" textLength="209.9" lengthAdjust="spacingAndGlyphs">Annexin V- FITC</text>
<path d="M209.3 1437.6V1411.2H253.4V1437.6" fill="none" stroke="#000" stroke-width="6.4" stroke-linejoin="miter"/>
<rect x="276.9" y="1419" width="37.7" height="18.6" fill="url(#p1)"/>
<path d="M273.7 1437.6V1415.8H317.8V1437.6" fill="none" stroke="#000" stroke-width="6.4" stroke-linejoin="miter"/>
<rect x="340.7" y="1402.8" width="37.7" height="34.8" fill="url(#p2)"/>
<path d="M337.5 1437.6V1399.6H381.6V1437.6" fill="none" stroke="#000" stroke-width="6.4" stroke-linejoin="miter"/>
<rect x="405.1" y="1399" width="37.7" height="38.6" fill="url(#p3)"/>
<path d="M401.9 1437.6V1395.8H446V1437.6" fill="none" stroke="#000" stroke-width="6.4" stroke-linejoin="miter"/>
<rect x="469.2" y="1406.7" width="37.7" height="30.9" fill="url(#p4)"/>
<path d="M466 1437.6V1403.5H510.1V1437.6" fill="none" stroke="#000" stroke-width="6.4" stroke-linejoin="miter"/>
<path d="M581.3 1437.6V1093.2H625.4V1437.6" fill="none" stroke="#000" stroke-width="6.4" stroke-linejoin="miter"/>
<rect x="648.4" y="1108.7" width="37.7" height="328.9" fill="url(#p5)"/>
<path d="M645.2 1437.6V1105.5H689.3V1437.6" fill="none" stroke="#000" stroke-width="6.4" stroke-linejoin="miter"/>
<rect x="712.2" y="1271.8" width="37.7" height="165.8" fill="url(#p6)"/>
<path d="M709 1437.6V1268.6H753.1V1437.6" fill="none" stroke="#000" stroke-width="6.4" stroke-linejoin="miter"/>
<rect x="776.8" y="1064.9" width="37.7" height="372.7" fill="url(#p7)"/>
<path d="M773.6 1437.6V1061.7H817.7V1437.6" fill="none" stroke="#000" stroke-width="6.4" stroke-linejoin="miter"/>
<rect x="840.5" y="1088.9" width="37.7" height="348.7" fill="url(#p8)"/>
<path d="M837.3 1437.6V1085.7H881.4V1437.6" fill="none" stroke="#000" stroke-width="6.4" stroke-linejoin="miter"/>
<path d="M218.3 1406.2L244.3 1406.2" stroke="#000" stroke-width="2.2"/>
<path d="M231.3 1406.2L231.3 1412.2" stroke="#000" stroke-width="2.2"/>
<path d="M282.7 1411L308.7 1411" stroke="#000" stroke-width="2.2"/>
<path d="M295.7 1411L295.7 1417" stroke="#000" stroke-width="2.2"/>
<path d="M346.5 1393.3L372.5 1393.3" stroke="#000" stroke-width="2.2"/>
<path d="M359.5 1393.3L359.5 1399.3" stroke="#000" stroke-width="2.2"/>
<path d="M410.8 1391.3L436.8 1391.3" stroke="#000" stroke-width="2.2"/>
<path d="M423.8 1391.3L423.8 1397.3" stroke="#000" stroke-width="2.2"/>
<path d="M474.9 1397.7L500.9 1397.7" stroke="#000" stroke-width="2.2"/>
<path d="M487.9 1397.7L487.9 1403.7" stroke="#000" stroke-width="2.2"/>
<path d="M589.8 1063.6L615.8 1063.6" stroke="#000" stroke-width="2.2"/>
<path d="M602.8 1063.6L602.8 1116.5" stroke="#000" stroke-width="2.2"/>
<path d="M589.8 1116.5L615.8 1116.5" stroke="#000" stroke-width="2.2"/>
<path d="M654 1070L680 1070" stroke="#000" stroke-width="2.2"/>
<path d="M667 1070L667 1134.9" stroke="#000" stroke-width="2.2"/>
<path d="M654 1134.9L680 1134.9" stroke="#000" stroke-width="2.2"/>
<path d="M717.9 1261L743.9 1261" stroke="#000" stroke-width="2.2"/>
<path d="M730.9 1261L730.9 1270" stroke="#000" stroke-width="2.2"/>
<path d="M717.9 1270L743.9 1270" stroke="#000" stroke-width="2.2"/>
<path d="M781.7 1021.8L807.7 1021.8" stroke="#000" stroke-width="2.2"/>
<path d="M794.7 1021.8L794.7 1093.7" stroke="#000" stroke-width="2.2"/>
<path d="M781.7 1093.7L807.7 1093.7" stroke="#000" stroke-width="2.2"/>
<path d="M845.9 1038.7L871.9 1038.7" stroke="#000" stroke-width="2.2"/>
<path d="M858.9 1038.7L858.9 1124.7" stroke="#000" stroke-width="2.2"/>
<path d="M845.9 1124.7L871.9 1124.7" stroke="#000" stroke-width="2.2"/>
<path d="M192.5 966.8L192.5 1437.6" stroke="#000" stroke-width="4.6"/>
<path d="M173.2 1437.6L898 1437.6" stroke="#000" stroke-width="4.6"/>
<path d="M173.2 968.8L192.5 968.8" stroke="#000" stroke-width="4.6"/>
<text x="170.4" y="978.8" font-family="'Liberation Serif','Times New Roman',serif" font-size="36" font-weight="bold" text-anchor="end">60</text>
<path d="M173.2 1124.8L192.5 1124.8" stroke="#000" stroke-width="4.6"/>
<text x="170.4" y="1138" font-family="'Liberation Serif','Times New Roman',serif" font-size="36" font-weight="bold" text-anchor="end">40</text>
<path d="M173.2 1281L192.5 1281" stroke="#000" stroke-width="4.6"/>
<text x="170.4" y="1292.5" font-family="'Liberation Serif','Times New Roman',serif" font-size="36" font-weight="bold" text-anchor="end">20</text>
<path d="M173.2 1437.6L192.5 1437.6" stroke="#000" stroke-width="4.6"/>
<text x="170.4" y="1441.6" font-family="'Liberation Serif','Times New Roman',serif" font-size="36" font-weight="bold" text-anchor="end">0</text>
<path d="M359.3 1437.6L359.3 1458.2" stroke="#000" stroke-width="4.6"/>
<text x="325.8" y="1487.8" font-family="'Liberation Serif','Times New Roman',serif" font-size="34.5" font-weight="bold" textLength="74.7" lengthAdjust="spacingAndGlyphs">CON</text>
<path d="M730 1437.6L730 1457.5" stroke="#000" stroke-width="4.6"/>
<text x="688.5" y="1487.8" font-family="'Liberation Serif','Times New Roman',serif" font-size="34.5" font-weight="bold" textLength="75" lengthAdjust="spacingAndGlyphs">OGD</text>
<text transform="translate(118 1185.3) rotate(-90)" font-family="'Liberation Serif','Times New Roman',serif" font-size="34" font-weight="bold" text-anchor="middle" textLength="278" lengthAdjust="spacingAndGlyphs">Apoptosis rate (%)</text>
<rect x="235.2" y="887" width="43.4" height="17" fill="#fff" stroke="#000" stroke-width="5"/>
<text x="298.1" y="909.1" font-family="'Liberation Serif','Times New Roman',serif" font-size="35.5" font-weight="bold" textLength="82.6" lengthAdjust="spacingAndGlyphs">Naive</text>
<rect x="235.2" y="930.7" width="43.4" height="17" fill="#fff" stroke="#000" stroke-width="5"/>
<circle cx="247.3" cy="939.2" r="2.2"/>
<circle cx="263.2" cy="939.2" r="2.2"/>
<circle cx="238.7" cy="934.2" r="2.2"/>
<circle cx="255.2" cy="934.2" r="2.2"/>
<circle cx="271.7" cy="934.2" r="2.2"/>
<circle cx="238.7" cy="944.2" r="2.2"/>
<circle cx="255.2" cy="944.2" r="2.2"/>
<circle cx="271.7" cy="944.2" r="2.2"/>
<text x="298.1" y="950.5" font-family="'Liberation Serif','Times New Roman',serif" font-size="35.5" font-weight="bold" textLength="118.8" lengthAdjust="spacingAndGlyphs">Vehicle1</text>
<rect x="235.2" y="974.4" width="43.4" height="17" fill="#fff" stroke="#000" stroke-width="5"/>
<rect x="245.7" y="978.9" width="15" height="13" fill="#000"/>
<rect x="245.7" y="975.9" width="15" height="1.2" fill="#fff"/>
<text x="298.1" y="991.8" font-family="'Liberation Serif','Times New Roman',serif" font-size="35.5" font-weight="bold" textLength="175" lengthAdjust="spacingAndGlyphs">WT-TRPC6</text>
<rect x="235.2" y="1018.3" width="43.4" height="17" fill="#fff" stroke="#000" stroke-width="5"/>
<rect x="237.7" y="1026" width="38.4" height="2.2" fill="#000"/>
<text x="298.1" y="1033.2" font-family="'Liberation Serif','Times New Roman',serif" font-size="35.5" font-weight="bold" textLength="120.7" lengthAdjust="spacingAndGlyphs">Vehicle2</text>
<rect x="235.2" y="1062" width="43.4" height="17" fill="#fff" stroke="#000" stroke-width="5"/>
<path d="M237.7 1063.5H256.7L276.1 1078H260.7L237.7 1065.5Z" fill="#000"/>
<text x="298.1" y="1074.5" font-family="'Liberation Serif','Times New Roman',serif" font-size="35.5" font-weight="bold" textLength="153.6" lengthAdjust="spacingAndGlyphs">sh-TRPC6</text>
<path d="M605.6 965.8V931.1H730.9V955.6" fill="none" stroke="#000" stroke-width="6" stroke-linecap="round" stroke-linejoin="miter"/>
<path d="M667.8 1038V1013.6H730.9V1048.3" fill="none" stroke="#000" stroke-width="6" stroke-linecap="round" stroke-linejoin="miter"/>
<text x="636" y="917.9" font-family="'Liberation Serif','Times New Roman',serif" font-size="43.5" letter-spacing="-0.8">###</text>
<text x="668" y="999.4" font-family="'Liberation Serif','Times New Roman',serif" font-size="42" letter-spacing="0.3">###</text>
<text x="565.4" y="1060.2" font-family="'Liberation Sans',Arial,sans-serif" font-size="41" font-weight="bold" letter-spacing="3.9">****</text>
<text x="630.6" y="1077.5" font-family="'Liberation Sans',Arial,sans-serif" font-size="41" font-weight="bold" letter-spacing="3.9">****</text>
<text x="757.9" y="1018.4" font-family="'Liberation Sans',Arial,sans-serif" font-size="41" font-weight="bold" letter-spacing="3.9">****</text>
<text x="822.1" y="1045.9" font-family="'Liberation Sans',Arial,sans-serif" font-size="41" font-weight="bold" letter-spacing="3.9">****</text>
<text x="711.4" y="1267" font-family="'Liberation Sans',Arial,sans-serif" font-size="41" font-weight="bold" letter-spacing="3.9">**</text>
<text x="23.6" y="862.7" font-family="'Liberation Sans',Arial,sans-serif" font-size="31" font-weight="bold">B</text>
<path d="M1220.9 1440.2V1325.7H1263.7V1440.2" fill="none" stroke="#000" stroke-width="6.4" stroke-linejoin="miter"/>
<rect x="1287.9" y="1333.8" width="36.4" height="106.4" fill="url(#p9)"/>
<path d="M1284.7 1440.2V1330.6H1327.5V1440.2" fill="none" stroke="#000" stroke-width="6.4" stroke-linejoin="miter"/>
<rect x="1352.3" y="1326.9" width="36.4" height="113.3" fill="url(#p10)"/>
<path d="M1349.1 1440.2V1323.7H1391.9V1440.2" fill="none" stroke="#000" stroke-width="6.4" stroke-linejoin="miter"/>
<rect x="1415.9" y="1337.2" width="36.4" height="103" fill="url(#p11)"/>
<path d="M1412.7 1440.2V1334H1455.5V1440.2" fill="none" stroke="#000" stroke-width="6.4" stroke-linejoin="miter"/>
<rect x="1480.2" y="1329.4" width="36.4" height="110.8" fill="url(#p12)"/>
<path d="M1477 1440.2V1326.2H1519.8V1440.2" fill="none" stroke="#000" stroke-width="6.4" stroke-linejoin="miter"/>
<path d="M1591.7 1440.2V1060.6H1634.5V1440.2" fill="none" stroke="#000" stroke-width="6.4" stroke-linejoin="miter"/>
<rect x="1659.1" y="1047.1" width="36.4" height="393.1" fill="url(#p13)"/>
<path d="M1655.9 1440.2V1043.9H1698.7V1440.2" fill="none" stroke="#000" stroke-width="6.4" stroke-linejoin="miter"/>
<rect x="1722.9" y="1230" width="36.4" height="210.2" fill="url(#p14)"/>
<path d="M1719.7 1440.2V1226.8H1762.5V1440.2" fill="none" stroke="#000" stroke-width="6.4" stroke-linejoin="miter"/>
<rect x="1787.1" y="1081.1" width="36.4" height="359.1" fill="url(#p15)"/>
<path d="M1783.9 1440.2V1077.9H1826.7V1440.2" fill="none" stroke="#000" stroke-width="6.4" stroke-linejoin="miter"/>
<rect x="1851.2" y="1054.2" width="36.4" height="386" fill="url(#p16)"/>
<path d="M1848 1440.2V1051H1890.8V1440.2" fill="none" stroke="#000" stroke-width="6.4" stroke-linejoin="miter"/>
<path d="M1229.2 1318.7L1255.2 1318.7" stroke="#000" stroke-width="2.2"/>
<path d="M1242.2 1318.7L1242.2 1324.7" stroke="#000" stroke-width="2.2"/>
<path d="M1293.2 1321.8L1319.2 1321.8" stroke="#000" stroke-width="2.2"/>
<path d="M1306.2 1321.8L1306.2 1327.8" stroke="#000" stroke-width="2.2"/>
<path d="M1357.2 1312.8L1383.2 1312.8" stroke="#000" stroke-width="2.2"/>
<path d="M1370.2 1312.8L1370.2 1318.8" stroke="#000" stroke-width="2.2"/>
<path d="M1421.2 1325L1447.2 1325" stroke="#000" stroke-width="2.2"/>
<path d="M1434.2 1325L1434.2 1331" stroke="#000" stroke-width="2.2"/>
<path d="M1485.2 1319.2L1511.2 1319.2" stroke="#000" stroke-width="2.2"/>
<path d="M1498.2 1319.2L1498.2 1325.2" stroke="#000" stroke-width="2.2"/>
<path d="M1600.4 1015.6L1626.4 1015.6" stroke="#000" stroke-width="2.2"/>
<path d="M1613.4 1015.6L1613.4 1097.5" stroke="#000" stroke-width="2.2"/>
<path d="M1600.4 1097.5L1626.4 1097.5" stroke="#000" stroke-width="2.2"/>
<path d="M1664.6 1008.5L1690.6 1008.5" stroke="#000" stroke-width="2.2"/>
<path d="M1677.6 1008.5L1677.6 1072" stroke="#000" stroke-width="2.2"/>
<path d="M1664.6 1072L1690.6 1072" stroke="#000" stroke-width="2.2"/>
<path d="M1727.7 1213.4L1753.7 1213.4" stroke="#000" stroke-width="2.2"/>
<path d="M1740.7 1213.4L1740.7 1232" stroke="#000" stroke-width="2.2"/>
<path d="M1727.7 1232L1753.7 1232" stroke="#000" stroke-width="2.2"/>
<path d="M1792.5 1054.3L1818.5 1054.3" stroke="#000" stroke-width="2.2"/>
<path d="M1805.5 1054.3L1805.5 1096.1" stroke="#000" stroke-width="2.2"/>
<path d="M1792.5 1096.1L1818.5 1096.1" stroke="#000" stroke-width="2.2"/>
<path d="M1856.7 1028.8L1882.7 1028.8" stroke="#000" stroke-width="2.2"/>
<path d="M1869.7 1028.8L1869.7 1063.9" stroke="#000" stroke-width="2.2"/>
<path d="M1856.7 1063.9L1882.7 1063.9" stroke="#000" stroke-width="2.2"/>
<path d="M1205.2 968.2L1205.2 1440.2" stroke="#000" stroke-width="4.6"/>
<path d="M1184.5 1440.2L1907.4 1440.2" stroke="#000" stroke-width="4.6"/>
<path d="M1184.5 970.2L1205.2 970.2" stroke="#000" stroke-width="4.6"/>
<text x="1183.8" y="982.2" font-family="'Liberation Serif','Times New Roman',serif" font-size="35" font-weight="bold" text-anchor="end">400</text>
<path d="M1184.5 1087.6L1205.2 1087.6" stroke="#000" stroke-width="4.6"/>
<text x="1183.8" y="1095.7" font-family="'Liberation Serif','Times New Roman',serif" font-size="35" font-weight="bold" text-anchor="end">300</text>
<path d="M1184.5 1205L1205.2 1205" stroke="#000" stroke-width="4.6"/>
<text x="1183.8" y="1214.1" font-family="'Liberation Serif','Times New Roman',serif" font-size="35" font-weight="bold" text-anchor="end">200</text>
<path d="M1184.5 1322.5L1205.2 1322.5" stroke="#000" stroke-width="4.6"/>
<text x="1183.8" y="1332.4" font-family="'Liberation Serif','Times New Roman',serif" font-size="35" font-weight="bold" text-anchor="end">100</text>
<path d="M1184.5 1440.2L1205.2 1440.2" stroke="#000" stroke-width="4.6"/>
<text x="1177" y="1441.5" font-family="'Liberation Serif','Times New Roman',serif" font-size="35" font-weight="bold" text-anchor="end">0</text>
<path d="M1370 1440.2L1370 1459.5" stroke="#000" stroke-width="4.6"/>
<text x="1342.5" y="1487.8" font-family="'Liberation Serif','Times New Roman',serif" font-size="34.5" font-weight="bold" textLength="72.1" lengthAdjust="spacingAndGlyphs">CON</text>
<path d="M1740.3 1440.2L1740.3 1459.5" stroke="#000" stroke-width="4.6"/>
<text x="1703.6" y="1488" font-family="'Liberation Serif','Times New Roman',serif" font-size="34.5" font-weight="bold" textLength="75.4" lengthAdjust="spacingAndGlyphs">OGD</text>
<text transform="translate(1120 1169.8) rotate(-90)" font-family="'Liberation Serif','Times New Roman',serif" font-size="34" font-weight="bold" text-anchor="middle" textLength="243.8" lengthAdjust="spacingAndGlyphs">Cytotoxicity (%)</text>
<rect x="1263.8" y="883" width="43.4" height="17" fill="#fff" stroke="#000" stroke-width="5"/>
<text x="1327.3" y="905.6" font-family="'Liberation Serif','Times New Roman',serif" font-size="35.5" font-weight="bold" textLength="81" lengthAdjust="spacingAndGlyphs">Naive</text>
<rect x="1263.8" y="927.1" width="43.4" height="17" fill="#fff" stroke="#000" stroke-width="5"/>
<circle cx="1275.9" cy="935.6" r="2.2"/>
<circle cx="1291.8" cy="935.6" r="2.2"/>
<circle cx="1267.3" cy="930.6" r="2.2"/>
<circle cx="1283.8" cy="930.6" r="2.2"/>
<circle cx="1300.3" cy="930.6" r="2.2"/>
<circle cx="1267.3" cy="940.6" r="2.2"/>
<circle cx="1283.8" cy="940.6" r="2.2"/>
<circle cx="1300.3" cy="940.6" r="2.2"/>
<text x="1327.3" y="946.6" font-family="'Liberation Serif','Times New Roman',serif" font-size="35.5" font-weight="bold" textLength="118.7" lengthAdjust="spacingAndGlyphs">Vehicle1</text>
<rect x="1263.8" y="970.7" width="43.4" height="17" fill="#fff" stroke="#000" stroke-width="5"/>
<rect x="1274.3" y="975.2" width="15" height="13" fill="#000"/>
<rect x="1274.3" y="972.2" width="15" height="1.2" fill="#fff"/>
<text x="1327.3" y="987.7" font-family="'Liberation Serif','Times New Roman',serif" font-size="35.5" font-weight="bold" textLength="174.2" lengthAdjust="spacingAndGlyphs">WT-TRPC6</text>
<rect x="1263.8" y="1014.3" width="43.4" height="17" fill="#fff" stroke="#000" stroke-width="5"/>
<rect x="1266.3" y="1022" width="38.4" height="2.2" fill="#000"/>
<text x="1327.3" y="1028.8" font-family="'Liberation Serif','Times New Roman',serif" font-size="35.5" font-weight="bold" textLength="120" lengthAdjust="spacingAndGlyphs">Vehicle2</text>
<rect x="1263.8" y="1057.8" width="43.4" height="17" fill="#fff" stroke="#000" stroke-width="5"/>
<path d="M1266.3 1059.3H1285.3L1304.7 1073.8H1289.3L1266.3 1061.3Z" fill="#000"/>
<text x="1327.3" y="1069.8" font-family="'Liberation Serif','Times New Roman',serif" font-size="35.5" font-weight="bold" textLength="152.6" lengthAdjust="spacingAndGlyphs">sh-TRPC6</text>
<path d="M1676.7 893.4V864.4H1741.3V893.4" fill="none" stroke="#000" stroke-width="6" stroke-linecap="round" stroke-linejoin="miter"/>
<path d="M1617 967.7V941.6H1743V971.8" fill="none" stroke="#000" stroke-width="6" stroke-linecap="round" stroke-linejoin="miter"/>
<text x="1667.2" y="852.2" font-family="'Liberation Serif','Times New Roman',serif" font-size="43.5" letter-spacing="-0.7">####</text>
<text x="1637.6" y="929.4" font-family="'Liberation Serif','Times New Roman',serif" font-size="42.6" letter-spacing="-0">####</text>
<text x="1576.2" y="1024.4" font-family="'Liberation Sans',Arial,sans-serif" font-size="41" font-weight="bold" letter-spacing="3.9">****</text>
<text x="1640.9" y="1003.1" font-family="'Liberation Sans',Arial,sans-serif" font-size="41" font-weight="bold" letter-spacing="3.9">****</text>
<text x="1768.7" y="1061.1" font-family="'Liberation Sans',Arial,sans-serif" font-size="41" font-weight="bold" letter-spacing="3.9">****</text>
<text x="1832.9" y="1036.7" font-family="'Liberation Sans',Arial,sans-serif" font-size="41" font-weight="bold" letter-spacing="3.9">****</text>
<text x="1732.1" y="1217.7" font-family="'Liberation Sans',Arial,sans-serif" font-size="41" font-weight="bold" letter-spacing="3.9">*</text>
<text x="1044.4" y="859.6" font-family="'Liberation Sans',Arial,sans-serif" font-size="31" font-weight="bold">C</text>
<path d="M1218.2 2083.5V2027.2H1261.3V2083.5" fill="none" stroke="#000" stroke-width="6.4" stroke-linejoin="miter"/>
<rect x="1286.2" y="2032.4" width="36.7" height="51.1" fill="url(#p17)"/>
<path d="M1283 2083.5V2029.2H1326.1V2083.5" fill="none" stroke="#000" stroke-width="6.4" stroke-linejoin="miter"/>
<rect x="1350.4" y="2037.5" width="36.7" height="46" fill="url(#p18)"/>
<path d="M1347.2 2083.5V2034.3H1390.3V2083.5" fill="none" stroke="#000" stroke-width="6.4" stroke-linejoin="miter"/>
<rect x="1415" y="2036.7" width="36.7" height="46.8" fill="url(#p19)"/>
<path d="M1411.8 2083.5V2033.5H1454.9V2083.5" fill="none" stroke="#000" stroke-width="6.4" stroke-linejoin="miter"/>
<rect x="1478.8" y="2028.9" width="36.7" height="54.6" fill="url(#p20)"/>
<path d="M1475.6 2083.5V2025.7H1518.7V2083.5" fill="none" stroke="#000" stroke-width="6.4" stroke-linejoin="miter"/>
<path d="M1591.7 2083.5V1782.9H1634.8V2083.5" fill="none" stroke="#000" stroke-width="6.4" stroke-linejoin="miter"/>
<rect x="1659.1" y="1806.1" width="36.7" height="277.4" fill="url(#p21)"/>
<path d="M1655.9 2083.5V1802.9H1699V2083.5" fill="none" stroke="#000" stroke-width="6.4" stroke-linejoin="miter"/>
<rect x="1723.3" y="1984.6" width="36.7" height="98.9" fill="url(#p22)"/>
<path d="M1720.1 2083.5V1981.4H1763.2V2083.5" fill="none" stroke="#000" stroke-width="6.4" stroke-linejoin="miter"/>
<rect x="1787.4" y="1785.7" width="36.7" height="297.8" fill="url(#p23)"/>
<path d="M1784.2 2083.5V1782.5H1827.3V2083.5" fill="none" stroke="#000" stroke-width="6.4" stroke-linejoin="miter"/>
<rect x="1851.6" y="1747.6" width="36.7" height="335.9" fill="url(#p24)"/>
<path d="M1848.4 2083.5V1744.4H1891.5V2083.5" fill="none" stroke="#000" stroke-width="6.4" stroke-linejoin="miter"/>
<path d="M1226.7 2023.1L1252.7 2023.1" stroke="#000" stroke-width="2.2"/>
<path d="M1239.7 2023.1L1239.7 2029.1" stroke="#000" stroke-width="2.2"/>
<path d="M1291.5 2021.1L1317.5 2021.1" stroke="#000" stroke-width="2.2"/>
<path d="M1304.5 2021.1L1304.5 2027.1" stroke="#000" stroke-width="2.2"/>
<path d="M1355.7 2023.1L1381.7 2023.1" stroke="#000" stroke-width="2.2"/>
<path d="M1368.7 2023.1L1368.7 2029.1" stroke="#000" stroke-width="2.2"/>
<path d="M1420.3 2028.2L1446.3 2028.2" stroke="#000" stroke-width="2.2"/>
<path d="M1433.3 2028.2L1433.3 2034.2" stroke="#000" stroke-width="2.2"/>
<path d="M1484.1 2014.8L1510.1 2014.8" stroke="#000" stroke-width="2.2"/>
<path d="M1497.1 2014.8L1497.1 2020.8" stroke="#000" stroke-width="2.2"/>
<path d="M1600.4 1762L1626.4 1762" stroke="#000" stroke-width="2.2"/>
<path d="M1613.4 1762L1613.4 1796.2" stroke="#000" stroke-width="2.2"/>
<path d="M1600.4 1796.2L1626.4 1796.2" stroke="#000" stroke-width="2.2"/>
<path d="M1664.6 1791.1L1690.6 1791.1" stroke="#000" stroke-width="2.2"/>
<path d="M1677.6 1791.1L1677.6 1808" stroke="#000" stroke-width="2.2"/>
<path d="M1664.6 1808L1690.6 1808" stroke="#000" stroke-width="2.2"/>
<path d="M1728.3 1959.8L1754.3 1959.8" stroke="#000" stroke-width="2.2"/>
<path d="M1741.3 1959.8L1741.3 1994.9" stroke="#000" stroke-width="2.2"/>
<path d="M1728.3 1994.9L1754.3 1994.9" stroke="#000" stroke-width="2.2"/>
<path d="M1793.5 1750.4L1819.5 1750.4" stroke="#000" stroke-width="2.2"/>
<path d="M1806.5 1750.4L1806.5 1807.4" stroke="#000" stroke-width="2.2"/>
<path d="M1793.5 1807.4L1819.5 1807.4" stroke="#000" stroke-width="2.2"/>
<path d="M1857.7 1712.1L1883.7 1712.1" stroke="#000" stroke-width="2.2"/>
<path d="M1870.7 1712.1L1870.7 1768.7" stroke="#000" stroke-width="2.2"/>
<path d="M1857.7 1768.7L1883.7 1768.7" stroke="#000" stroke-width="2.2"/>
<path d="M1201.5 1608.5L1201.5 2083.5" stroke="#000" stroke-width="4.6"/>
<path d="M1182 2083.5L1909.4 2083.5" stroke="#000" stroke-width="4.6"/>
<path d="M1182 1610.5L1201.5 1610.5" stroke="#000" stroke-width="4.6"/>
<text x="1178.5" y="1617.3" font-family="'Liberation Serif','Times New Roman',serif" font-size="35.5" font-weight="bold" text-anchor="end">8</text>
<path d="M1182 1728.9L1201.5 1728.9" stroke="#000" stroke-width="4.6"/>
<text x="1178.5" y="1740.7" font-family="'Liberation Serif','Times New Roman',serif" font-size="35.5" font-weight="bold" text-anchor="end">6</text>
<path d="M1182 1847.3L1201.5 1847.3" stroke="#000" stroke-width="4.6"/>
<text x="1178.5" y="1859.1" font-family="'Liberation Serif','Times New Roman',serif" font-size="35.5" font-weight="bold" text-anchor="end">4</text>
<path d="M1182 1965.7L1201.5 1965.7" stroke="#000" stroke-width="4.6"/>
<text x="1178.5" y="1977.5" font-family="'Liberation Serif','Times New Roman',serif" font-size="35.5" font-weight="bold" text-anchor="end">2</text>
<path d="M1182 2083.5L1201.5 2083.5" stroke="#000" stroke-width="4.6"/>
<text x="1182.7" y="2101.3" font-family="'Liberation Serif','Times New Roman',serif" font-size="35.5" font-weight="bold" text-anchor="end">0</text>
<path d="M1368.5 2083.5L1368.5 2103" stroke="#000" stroke-width="4.6"/>
<text x="1334.9" y="2130.5" font-family="'Liberation Serif','Times New Roman',serif" font-size="34.5" font-weight="bold" textLength="72.9" lengthAdjust="spacingAndGlyphs">CON</text>
<path d="M1741.3 2083.5L1741.3 2102.5" stroke="#000" stroke-width="4.6"/>
<text x="1695.5" y="2130" font-family="'Liberation Serif','Times New Roman',serif" font-size="34.5" font-weight="bold" textLength="76.4" lengthAdjust="spacingAndGlyphs">OGD</text>
<text transform="translate(1133 1854.8) rotate(-90)" font-family="'Liberation Serif','Times New Roman',serif" font-size="35" font-weight="bold" text-anchor="middle" textLength="391.8" lengthAdjust="spacingAndGlyphs">Cleaved caspase-3 / β-actin</text>
<rect x="1264.5" y="1600.6" width="43.4" height="17" fill="#fff" stroke="#000" stroke-width="5"/>
<text x="1317.9" y="1621.2" font-family="'Liberation Serif','Times New Roman',serif" font-size="35.5" font-weight="bold" textLength="82.2" lengthAdjust="spacingAndGlyphs">Naive</text>
<rect x="1264.5" y="1644.3" width="43.4" height="17" fill="#fff" stroke="#000" stroke-width="5"/>
<circle cx="1276.6" cy="1652.8" r="2.2"/>
<circle cx="1292.5" cy="1652.8" r="2.2"/>
<circle cx="1268" cy="1647.8" r="2.2"/>
<circle cx="1284.5" cy="1647.8" r="2.2"/>
<circle cx="1301" cy="1647.8" r="2.2"/>
<circle cx="1268" cy="1657.8" r="2.2"/>
<circle cx="1284.5" cy="1657.8" r="2.2"/>
<circle cx="1301" cy="1657.8" r="2.2"/>
<text x="1317.9" y="1662.5" font-family="'Liberation Serif','Times New Roman',serif" font-size="35.5" font-weight="bold" textLength="118" lengthAdjust="spacingAndGlyphs">Vehicle1</text>
<rect x="1264.5" y="1687.8" width="43.4" height="17" fill="#fff" stroke="#000" stroke-width="5"/>
<rect x="1275" y="1692.3" width="15" height="13" fill="#000"/>
<rect x="1275" y="1689.3" width="15" height="1.2" fill="#fff"/>
<text x="1317.9" y="1703.7" font-family="'Liberation Serif','Times New Roman',serif" font-size="35.5" font-weight="bold" textLength="174.3" lengthAdjust="spacingAndGlyphs">WT-TRPC6</text>
<rect x="1264.5" y="1731.8" width="43.4" height="17" fill="#fff" stroke="#000" stroke-width="5"/>
<rect x="1267" y="1739.5" width="38.4" height="2.2" fill="#000"/>
<text x="1317.9" y="1745" font-family="'Liberation Serif','Times New Roman',serif" font-size="35.5" font-weight="bold" textLength="120" lengthAdjust="spacingAndGlyphs">Vehicle2</text>
<rect x="1264.5" y="1775.2" width="43.4" height="17" fill="#fff" stroke="#000" stroke-width="5"/>
<path d="M1267 1776.7H1286L1305.4 1791.2H1290L1267 1778.7Z" fill="#000"/>
<text x="1317.9" y="1786.2" font-family="'Liberation Serif','Times New Roman',serif" font-size="35.5" font-weight="bold" textLength="152.6" lengthAdjust="spacingAndGlyphs">sh-TRPC6</text>
<path d="M1616.4 1723.3V1663.2H1742V1685.6" fill="none" stroke="#000" stroke-width="6" stroke-linecap="round" stroke-linejoin="miter"/>
<path d="M1677.2 1762V1740.6H1741.3V1762" fill="none" stroke="#000" stroke-width="6" stroke-linecap="round" stroke-linejoin="miter"/>
<text x="1637.2" y="1651" font-family="'Liberation Serif','Times New Roman',serif" font-size="43.7" letter-spacing="-0.6">####</text>
<text x="1667.2" y="1728.4" font-family="'Liberation Serif','Times New Roman',serif" font-size="43.7" letter-spacing="-0.8">####</text>
<text x="1576.2" y="1768.8" font-family="'Liberation Sans',Arial,sans-serif" font-size="41" font-weight="bold" letter-spacing="3.9">****</text>
<text x="1641" y="1799.3" font-family="'Liberation Sans',Arial,sans-serif" font-size="41" font-weight="bold" letter-spacing="3.9">****</text>
<text x="1769.8" y="1754.5" font-family="'Liberation Sans',Arial,sans-serif" font-size="41" font-weight="bold" letter-spacing="3.9">****</text>
<text x="1833.9" y="1718.9" font-family="'Liberation Sans',Arial,sans-serif" font-size="41" font-weight="bold" letter-spacing="3.9">****</text>
<text x="1043.4" y="1567.1" font-family="'Liberation Sans',Arial,sans-serif" font-size="31" font-weight="bold">E</text>
<rect x="171.5" y="1629" width="738.3" height="76" fill="#fbfbfb"/>
<rect x="171.5" y="1629" width="738.3" height="76" fill="#000" filter="url(#noise)"/>
<rect x="171.5" y="1720.2" width="738.3" height="55" fill="url(#trg)"/>
<rect x="171.5" y="1720.2" width="738.3" height="55" fill="#000" filter="url(#noise)"/>
<rect x="171.5" y="1798.5" width="738.3" height="74.5" fill="url(#clg)"/>
<rect x="171.5" y="1798.5" width="738.3" height="74.5" fill="#000" filter="url(#noise)"/>
<rect x="171.5" y="1888.3" width="738.3" height="74.2" fill="#fcfcfc"/>
<rect x="171.5" y="1888.3" width="738.3" height="74.2" fill="#000" filter="url(#noise)"/>
<rect x="180" y="1727" width="52" height="40" rx="20" fill="#000" opacity="0.1" filter="url(#bl6)"/>
<rect x="247" y="1727" width="56" height="40" rx="20" fill="#000" opacity="0.1" filter="url(#bl6)"/>
<rect x="308" y="1727" width="66" height="40" rx="20" fill="#000" opacity="0.2" filter="url(#bl6)"/>
<rect x="380" y="1727" width="54" height="40" rx="20" fill="#000" opacity="0.1" filter="url(#bl6)"/>
<rect x="560" y="1806" width="60" height="60" rx="30" fill="#000" opacity="0.1" filter="url(#bl6)"/>
<rect x="632" y="1806" width="58" height="60" rx="30" fill="#000" opacity="0.1" filter="url(#bl6)"/>
<rect x="764" y="1806" width="58" height="60" rx="30" fill="#000" opacity="0.1" filter="url(#bl6)"/>
<rect x="834" y="1806" width="68" height="60" rx="30" fill="#000" opacity="0.1" filter="url(#bl6)"/>
<rect x="317.9" y="1658.8" width="54.3" height="24" rx="12" fill="#000" opacity="1" filter="url(#bl3)"/>
<rect x="319" y="1654" width="52" height="20" rx="10" fill="#000" opacity="0.5" filter="url(#bl4)"/>
<rect x="706" y="1664.9" width="47" height="15" rx="7.5" fill="#000" opacity="1" filter="url(#bl3)"/>
<rect x="706" y="1646" width="47" height="20" rx="10" fill="#000" opacity="0.6" filter="url(#bl4)"/>
<rect x="185" y="1741.2" width="42" height="9.5" rx="4.8" fill="#111" opacity="0.9" filter="url(#bl3)"/>
<rect x="252" y="1741" width="47" height="8" rx="4" fill="#111" opacity="0.7" filter="url(#bl3)"/>
<rect x="311" y="1735" width="59.8" height="22" rx="11" fill="#000" opacity="1" filter="url(#bl3)"/>
<rect x="384" y="1741.5" width="46" height="8" rx="4" fill="#111" opacity="0.7" filter="url(#bl3)"/>
<rect x="701" y="1742.2" width="49" height="12.5" rx="6.2" fill="#000" opacity="1" filter="url(#bl3)"/>
<rect x="762" y="1746.5" width="38" height="5" rx="2.5" fill="#444" opacity="0.2" filter="url(#bl3)"/>
<rect x="580" y="1745.5" width="30" height="5" rx="2.5" fill="#444" opacity="0.1" filter="url(#bl3)"/>
<rect x="650" y="1745.5" width="30" height="5" rx="2.5" fill="#444" opacity="0.1" filter="url(#bl3)"/>
<rect x="568" y="1812" width="47.5" height="10" rx="5" fill="#222" opacity="0.5" filter="url(#bl4)"/>
<rect x="568" y="1845" width="47.5" height="12" rx="6" fill="#111" opacity="0.6" filter="url(#bl4)"/>
<rect x="637.4" y="1812" width="46.3" height="10" rx="5" fill="#222" opacity="0.5" filter="url(#bl4)"/>
<rect x="637.4" y="1845" width="46.3" height="12" rx="6" fill="#111" opacity="0.7" filter="url(#bl4)"/>
<rect x="707" y="1812" width="38" height="10" rx="5" fill="#222" opacity="0.1" filter="url(#bl4)"/>
<rect x="707" y="1846.5" width="38" height="9" rx="4.5" fill="#111" opacity="0.1" filter="url(#bl4)"/>
<rect x="769.5" y="1812" width="44.9" height="10" rx="5" fill="#222" opacity="0.5" filter="url(#bl4)"/>
<rect x="769.5" y="1845.5" width="44.9" height="11" rx="5.5" fill="#111" opacity="0.8" filter="url(#bl4)"/>
<rect x="840.6" y="1809" width="56.2" height="10" rx="5" fill="#222" opacity="0.6" filter="url(#bl4)"/>
<rect x="840.6" y="1843.5" width="56.2" height="15" rx="7.5" fill="#111" opacity="1" filter="url(#bl3)"/>
<rect x="840" y="1817" width="57" height="30" rx="15" fill="#555" opacity="0.2" filter="url(#bl6)"/>
<rect x="567" y="1820" width="48" height="28" rx="14" fill="#666" opacity="0.1" filter="url(#bl6)"/>
<rect x="636.4" y="1820" width="48" height="28" rx="14" fill="#666" opacity="0.1" filter="url(#bl6)"/>
<rect x="768.5" y="1820" width="48" height="28" rx="14" fill="#666" opacity="0.1" filter="url(#bl6)"/>
<rect x="182.2" y="1917.5" width="58" height="17.5" rx="8.8" fill="#000" opacity="1" filter="url(#bl3)"/>
<rect x="250.5" y="1917.8" width="52.4" height="17" rx="8.5" fill="#000" opacity="1" filter="url(#bl3)"/>
<rect x="316" y="1918.3" width="52.4" height="16" rx="8" fill="#000" opacity="1" filter="url(#bl3)"/>
<rect x="378.8" y="1918.5" width="52.4" height="15.5" rx="7.8" fill="#000" opacity="1" filter="url(#bl3)"/>
<rect x="442.9" y="1919" width="56.6" height="14.5" rx="7.2" fill="#000" opacity="1" filter="url(#bl3)"/>
<rect x="565" y="1921.8" width="57.6" height="12.5" rx="6.2" fill="#000" opacity="1" filter="url(#bl3)"/>
<rect x="636" y="1921.5" width="52.8" height="13" rx="6.5" fill="#000" opacity="1" filter="url(#bl3)"/>
<rect x="702.8" y="1921.5" width="52" height="13" rx="6.5" fill="#000" opacity="1" filter="url(#bl3)"/>
<rect x="768.1" y="1921" width="56.3" height="14" rx="7" fill="#000" opacity="1" filter="url(#bl3)"/>
<rect x="837.7" y="1921" width="60.6" height="14" rx="7" fill="#000" opacity="1" filter="url(#bl3)"/>
<rect x="173.4" y="1630.9" width="734.5" height="72.2" fill="none" stroke="#000" stroke-width="3.8"/>
<rect x="173.4" y="1722.1" width="734.5" height="51.2" fill="none" stroke="#000" stroke-width="3.8"/>
<rect x="173.4" y="1800.4" width="734.5" height="70.7" fill="none" stroke="#000" stroke-width="3.8"/>
<rect x="173.4" y="1890.2" width="734.5" height="70.4" fill="none" stroke="#000" stroke-width="3.8"/>
<path d="M171.5 1617.8L509.7 1617.8" stroke="#000" stroke-width="3.6"/>
<path d="M565.4 1616.6L904.1 1616.6" stroke="#000" stroke-width="3.6"/>
<text x="326.2" y="1610" font-family="'Liberation Serif','Times New Roman',serif" font-size="31.5" font-weight="bold" textLength="73.9" lengthAdjust="spacingAndGlyphs">CON</text>
<text x="687.6" y="1609.3" font-family="'Liberation Serif','Times New Roman',serif" font-size="31.5" font-weight="bold" textLength="76.1" lengthAdjust="spacingAndGlyphs">OGD</text>
<text x="93.4" y="1679.2" font-family="'Liberation Serif','Times New Roman',serif" font-size="33" font-weight="bold" textLength="62.7" lengthAdjust="spacingAndGlyphs">Flag</text>
<text x="46" y="1760.9" font-family="'Liberation Serif','Times New Roman',serif" font-size="33" font-weight="bold" textLength="108.7" lengthAdjust="spacingAndGlyphs">TRPC6</text>
<text x="36.2" y="1831.6" font-family="'Liberation Serif','Times New Roman',serif" font-size="33" font-weight="bold" textLength="115.8" lengthAdjust="spacingAndGlyphs">Cleaved</text>
<text x="23.7" y="1865" font-family="'Liberation Serif','Times New Roman',serif" font-size="33" font-weight="bold" textLength="136.6" lengthAdjust="spacingAndGlyphs">caspase-3</text>
<text x="57.2" y="1933.4" font-family="'Liberation Serif','Times New Roman',serif" font-size="33" font-weight="bold" textLength="98.9" lengthAdjust="spacingAndGlyphs">β-actin</text>
<text x="920" y="1679.5" font-family="'Liberation Serif','Times New Roman',serif" font-size="31.5" font-weight="bold" textLength="97.8" lengthAdjust="spacingAndGlyphs">110KD</text>
<text x="920" y="1760.4" font-family="'Liberation Serif','Times New Roman',serif" font-size="31.5" font-weight="bold" textLength="97.8" lengthAdjust="spacingAndGlyphs">110KD</text>
<text x="919.2" y="1825.5" font-family="'Liberation Serif','Times New Roman',serif" font-size="31.5" font-weight="bold" textLength="82.4" lengthAdjust="spacingAndGlyphs">19KD</text>
<text x="919.2" y="1862.4" font-family="'Liberation Serif','Times New Roman',serif" font-size="31.5" font-weight="bold" textLength="83" lengthAdjust="spacingAndGlyphs">17KD</text>
<text x="919.2" y="1936.3" font-family="'Liberation Serif','Times New Roman',serif" font-size="31.5" font-weight="bold" textLength="83" lengthAdjust="spacingAndGlyphs">42KD</text>
<text x="64.7" y="2006" font-family="'Liberation Serif','Times New Roman',serif" font-size="31.5" font-weight="bold" textLength="117.9" lengthAdjust="spacingAndGlyphs">Vehicle1</text>
<text x="11.7" y="2047" font-family="'Liberation Serif','Times New Roman',serif" font-size="31.5" font-weight="bold" textLength="172.9" lengthAdjust="spacingAndGlyphs">WT-TRPC6</text>
<text x="65.2" y="2088.8" font-family="'Liberation Serif','Times New Roman',serif" font-size="31.5" font-weight="bold" textLength="118.7" lengthAdjust="spacingAndGlyphs">Vehicle2</text>
<text x="30.7" y="2128.7" font-family="'Liberation Serif','Times New Roman',serif" font-size="31.5" font-weight="bold" textLength="153.9" lengthAdjust="spacingAndGlyphs">sh-TRPC6</text>
<path d="M196.6 1998.5L225.8 1998.5" stroke="#808080" stroke-width="2.8"/>
<path d="M259.3 2001.3h23.4M271 1989.7v23.2" stroke="#2a2a2a" stroke-width="2.2"/>
<path d="M325.7 1998.5L355.5 1998.5" stroke="#808080" stroke-width="2.8"/>
<path d="M387 1998.5L416.8 1998.5" stroke="#808080" stroke-width="2.8"/>
<path d="M455 1998.5L485.1 1998.5" stroke="#808080" stroke-width="2.8"/>
<path d="M577.2 1998.5L607.3 1998.5" stroke="#808080" stroke-width="2.8"/>
<path d="M647.7 2001h23.4M659.4 1989.4v23.2" stroke="#2a2a2a" stroke-width="2.2"/>
<path d="M720.2 1998.5L750.3 1998.5" stroke="#808080" stroke-width="2.8"/>
<path d="M788.5 1998.5L818.3 1998.5" stroke="#808080" stroke-width="2.8"/>
<path d="M856.5 1998.5L886.6 1998.5" stroke="#808080" stroke-width="2.8"/>
<path d="M196.6 2035.3L225.8 2035.3" stroke="#808080" stroke-width="2.8"/>
<path d="M257.9 2035.3L287.2 2035.3" stroke="#808080" stroke-width="2.8"/>
<path d="M327.6 2038.9h23.4M339.3 2027.3v23.2" stroke="#2a2a2a" stroke-width="2.2"/>
<path d="M387 2035.3L416.8 2035.3" stroke="#808080" stroke-width="2.8"/>
<path d="M455 2035.3L485.1 2035.3" stroke="#808080" stroke-width="2.8"/>
<path d="M577.2 2035.3L607.3 2035.3" stroke="#808080" stroke-width="2.8"/>
<path d="M645.5 2035.3L675.3 2035.3" stroke="#808080" stroke-width="2.8"/>
<path d="M722.4 2038.6h23.4M734.1 2027v23.2" stroke="#2a2a2a" stroke-width="2.2"/>
<path d="M788.5 2035.3L818.3 2035.3" stroke="#808080" stroke-width="2.8"/>
<path d="M856.5 2035.3L886.6 2035.3" stroke="#808080" stroke-width="2.8"/>
<path d="M196.6 2078.5L225.8 2078.5" stroke="#808080" stroke-width="2.8"/>
<path d="M257.9 2078.5L287.2 2078.5" stroke="#808080" stroke-width="2.8"/>
<path d="M325.7 2078.5L355.5 2078.5" stroke="#808080" stroke-width="2.8"/>
<path d="M389.3 2080.7h23.4M401 2069.1v23.2" stroke="#2a2a2a" stroke-width="2.2"/>
<path d="M455 2078.5L485.1 2078.5" stroke="#808080" stroke-width="2.8"/>
<path d="M577.2 2078.5L607.3 2078.5" stroke="#808080" stroke-width="2.8"/>
<path d="M645.5 2078.5L675.3 2078.5" stroke="#808080" stroke-width="2.8"/>
<path d="M720.2 2078.5L750.3 2078.5" stroke="#808080" stroke-width="2.8"/>
<path d="M790.7 2080.6h23.4M802.4 2069v23.2" stroke="#2a2a2a" stroke-width="2.2"/>
<path d="M856.5 2078.5L886.6 2078.5" stroke="#808080" stroke-width="2.8"/>
<path d="M196.6 2117.5L225.8 2117.5" stroke="#808080" stroke-width="2.8"/>
<path d="M257.9 2117.5L287.2 2117.5" stroke="#808080" stroke-width="2.8"/>
<path d="M325.7 2117.5L355.5 2117.5" stroke="#808080" stroke-width="2.8"/>
<path d="M387 2117.5L416.8 2117.5" stroke="#808080" stroke-width="2.8"/>
<path d="M457.6 2119.8h23.4M469.3 2108.2v23.2" stroke="#2a2a2a" stroke-width="2.2"/>
<path d="M577.2 2117.5L607.3 2117.5" stroke="#808080" stroke-width="2.8"/>
<path d="M645.5 2117.5L675.3 2117.5" stroke="#808080" stroke-width="2.8"/>
<path d="M720.2 2117.5L750.3 2117.5" stroke="#808080" stroke-width="2.8"/>
<path d="M788.5 2117.5L818.3 2117.5" stroke="#808080" stroke-width="2.8"/>
<path d="M859.1 2119.5h23.4M870.8 2107.9v23.2" stroke="#2a2a2a" stroke-width="2.2"/>
<text x="23.7" y="1567.1" font-family="'Liberation Sans',Arial,sans-serif" font-size="31" font-weight="bold">D</text>
</svg>
</body></html>
